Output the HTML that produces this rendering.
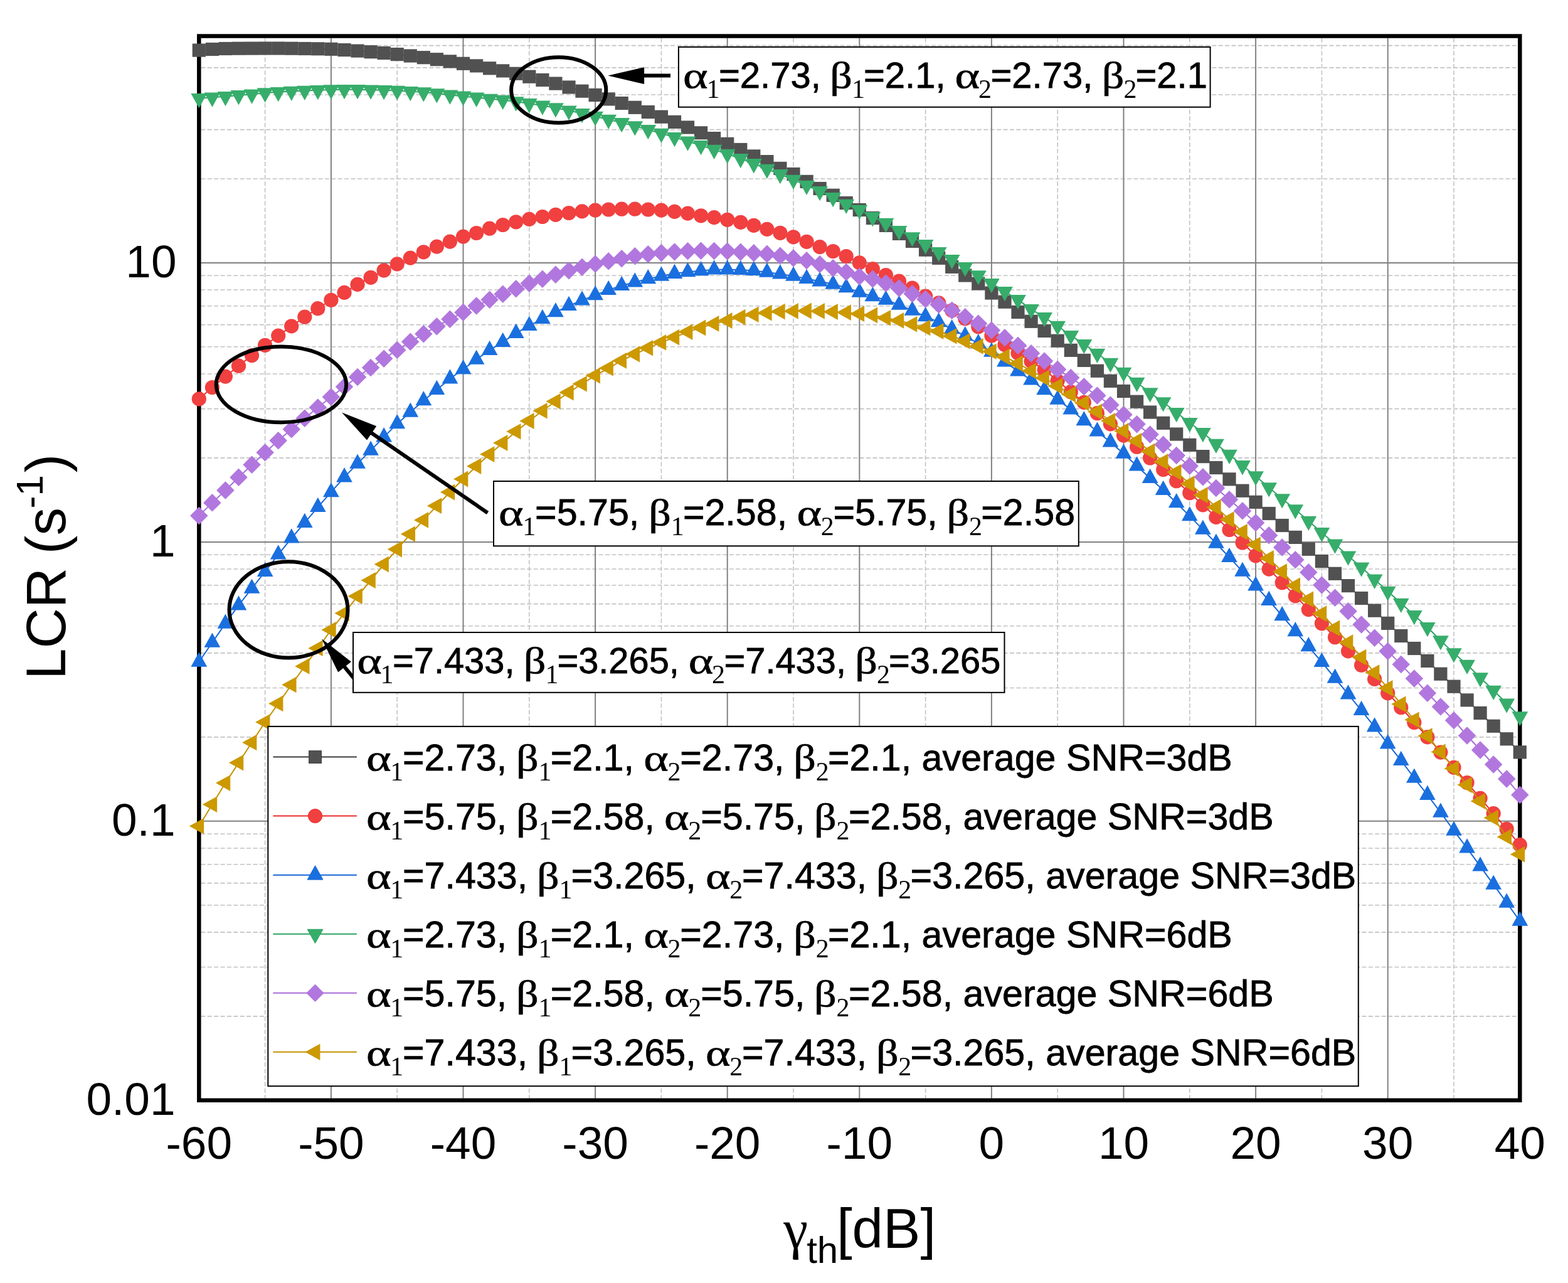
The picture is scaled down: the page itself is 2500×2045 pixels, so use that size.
<!DOCTYPE html><html><head><meta charset="utf-8"><title>LCR vs threshold</title>
<style>html,body{margin:0;padding:0;background:#fff;width:2500px;height:2045px;overflow:hidden}svg{display:block}</style></head><body>
<svg width="2500" height="2045" viewBox="0 0 2500 2045">
<rect width="2500" height="2045" fill="#fff"/>
<g id="grid"><line x1="422.6" y1="60.5" x2="422.6" y2="1750.8" stroke="#c2c2c2" stroke-width="1.6" stroke-dasharray="7 3.4"/><line x1="633.2" y1="60.5" x2="633.2" y2="1750.8" stroke="#c2c2c2" stroke-width="1.6" stroke-dasharray="7 3.4"/><line x1="843.8" y1="60.5" x2="843.8" y2="1750.8" stroke="#c2c2c2" stroke-width="1.6" stroke-dasharray="7 3.4"/><line x1="1054.4" y1="60.5" x2="1054.4" y2="1750.8" stroke="#c2c2c2" stroke-width="1.6" stroke-dasharray="7 3.4"/><line x1="1265" y1="60.5" x2="1265" y2="1750.8" stroke="#c2c2c2" stroke-width="1.6" stroke-dasharray="7 3.4"/><line x1="1475.6" y1="60.5" x2="1475.6" y2="1750.8" stroke="#c2c2c2" stroke-width="1.6" stroke-dasharray="7 3.4"/><line x1="1686.2" y1="60.5" x2="1686.2" y2="1750.8" stroke="#c2c2c2" stroke-width="1.6" stroke-dasharray="7 3.4"/><line x1="1896.8" y1="60.5" x2="1896.8" y2="1750.8" stroke="#c2c2c2" stroke-width="1.6" stroke-dasharray="7 3.4"/><line x1="2107.4" y1="60.5" x2="2107.4" y2="1750.8" stroke="#c2c2c2" stroke-width="1.6" stroke-dasharray="7 3.4"/><line x1="2318" y1="60.5" x2="2318" y2="1750.8" stroke="#c2c2c2" stroke-width="1.6" stroke-dasharray="7 3.4"/><line x1="320.3" y1="1619.9" x2="2420.3" y2="1619.9" stroke="#c2c2c2" stroke-width="1.6" stroke-dasharray="7 3.4"/><line x1="320.3" y1="1541.5" x2="2420.3" y2="1541.5" stroke="#c2c2c2" stroke-width="1.6" stroke-dasharray="7 3.4"/><line x1="320.3" y1="1485.9" x2="2420.3" y2="1485.9" stroke="#c2c2c2" stroke-width="1.6" stroke-dasharray="7 3.4"/><line x1="320.3" y1="1442.8" x2="2420.3" y2="1442.8" stroke="#c2c2c2" stroke-width="1.6" stroke-dasharray="7 3.4"/><line x1="320.3" y1="1407.6" x2="2420.3" y2="1407.6" stroke="#c2c2c2" stroke-width="1.6" stroke-dasharray="7 3.4"/><line x1="320.3" y1="1377.8" x2="2420.3" y2="1377.8" stroke="#c2c2c2" stroke-width="1.6" stroke-dasharray="7 3.4"/><line x1="320.3" y1="1352" x2="2420.3" y2="1352" stroke="#c2c2c2" stroke-width="1.6" stroke-dasharray="7 3.4"/><line x1="320.3" y1="1329.2" x2="2420.3" y2="1329.2" stroke="#c2c2c2" stroke-width="1.6" stroke-dasharray="7 3.4"/><line x1="320.3" y1="1174.9" x2="2420.3" y2="1174.9" stroke="#c2c2c2" stroke-width="1.6" stroke-dasharray="7 3.4"/><line x1="320.3" y1="1096.5" x2="2420.3" y2="1096.5" stroke="#c2c2c2" stroke-width="1.6" stroke-dasharray="7 3.4"/><line x1="320.3" y1="1040.9" x2="2420.3" y2="1040.9" stroke="#c2c2c2" stroke-width="1.6" stroke-dasharray="7 3.4"/><line x1="320.3" y1="997.8" x2="2420.3" y2="997.8" stroke="#c2c2c2" stroke-width="1.6" stroke-dasharray="7 3.4"/><line x1="320.3" y1="962.6" x2="2420.3" y2="962.6" stroke="#c2c2c2" stroke-width="1.6" stroke-dasharray="7 3.4"/><line x1="320.3" y1="932.8" x2="2420.3" y2="932.8" stroke="#c2c2c2" stroke-width="1.6" stroke-dasharray="7 3.4"/><line x1="320.3" y1="907" x2="2420.3" y2="907" stroke="#c2c2c2" stroke-width="1.6" stroke-dasharray="7 3.4"/><line x1="320.3" y1="884.2" x2="2420.3" y2="884.2" stroke="#c2c2c2" stroke-width="1.6" stroke-dasharray="7 3.4"/><line x1="320.3" y1="729.9" x2="2420.3" y2="729.9" stroke="#c2c2c2" stroke-width="1.6" stroke-dasharray="7 3.4"/><line x1="320.3" y1="651.6" x2="2420.3" y2="651.6" stroke="#c2c2c2" stroke-width="1.6" stroke-dasharray="7 3.4"/><line x1="320.3" y1="596" x2="2420.3" y2="596" stroke="#c2c2c2" stroke-width="1.6" stroke-dasharray="7 3.4"/><line x1="320.3" y1="552.8" x2="2420.3" y2="552.8" stroke="#c2c2c2" stroke-width="1.6" stroke-dasharray="7 3.4"/><line x1="320.3" y1="517.6" x2="2420.3" y2="517.6" stroke="#c2c2c2" stroke-width="1.6" stroke-dasharray="7 3.4"/><line x1="320.3" y1="487.8" x2="2420.3" y2="487.8" stroke="#c2c2c2" stroke-width="1.6" stroke-dasharray="7 3.4"/><line x1="320.3" y1="462" x2="2420.3" y2="462" stroke="#c2c2c2" stroke-width="1.6" stroke-dasharray="7 3.4"/><line x1="320.3" y1="439.3" x2="2420.3" y2="439.3" stroke="#c2c2c2" stroke-width="1.6" stroke-dasharray="7 3.4"/><line x1="320.3" y1="285" x2="2420.3" y2="285" stroke="#c2c2c2" stroke-width="1.6" stroke-dasharray="7 3.4"/><line x1="320.3" y1="206.6" x2="2420.3" y2="206.6" stroke="#c2c2c2" stroke-width="1.6" stroke-dasharray="7 3.4"/><line x1="320.3" y1="151" x2="2420.3" y2="151" stroke="#c2c2c2" stroke-width="1.6" stroke-dasharray="7 3.4"/><line x1="320.3" y1="107.9" x2="2420.3" y2="107.9" stroke="#c2c2c2" stroke-width="1.6" stroke-dasharray="7 3.4"/><line x1="320.3" y1="72.6" x2="2420.3" y2="72.6" stroke="#c2c2c2" stroke-width="1.6" stroke-dasharray="7 3.4"/><line x1="527.9" y1="60.5" x2="527.9" y2="1750.8" stroke="#808080" stroke-width="2"/><line x1="738.5" y1="60.5" x2="738.5" y2="1750.8" stroke="#808080" stroke-width="2"/><line x1="949.1" y1="60.5" x2="949.1" y2="1750.8" stroke="#808080" stroke-width="2"/><line x1="1159.7" y1="60.5" x2="1159.7" y2="1750.8" stroke="#808080" stroke-width="2"/><line x1="1370.3" y1="60.5" x2="1370.3" y2="1750.8" stroke="#808080" stroke-width="2"/><line x1="1580.9" y1="60.5" x2="1580.9" y2="1750.8" stroke="#808080" stroke-width="2"/><line x1="1791.5" y1="60.5" x2="1791.5" y2="1750.8" stroke="#808080" stroke-width="2"/><line x1="2002.1" y1="60.5" x2="2002.1" y2="1750.8" stroke="#808080" stroke-width="2"/><line x1="2212.7" y1="60.5" x2="2212.7" y2="1750.8" stroke="#808080" stroke-width="2"/><line x1="320.3" y1="1308.8" x2="2420.3" y2="1308.8" stroke="#808080" stroke-width="2"/><line x1="320.3" y1="863.9" x2="2420.3" y2="863.9" stroke="#808080" stroke-width="2"/><line x1="320.3" y1="418.9" x2="2420.3" y2="418.9" stroke="#808080" stroke-width="2"/></g>
<rect x="317.3" y="57.5" width="2106" height="1696.3" fill="none" stroke="#000" stroke-width="6.5"/>
<g id="curves"><polyline points="317.3,80 338.4,78.5 359.4,77.5 380.5,77.2 401.5,77.1 422.6,77 443.7,77 464.7,77.2 485.8,77.5 506.8,77.8 527.9,78.3 549,79.6 570,81.1 591.1,82.7 612.1,84.5 633.2,86.6 654.3,89 675.3,91.7 696.4,94.7 717.4,97.9 738.5,101.3 759.6,104.9 780.6,108.8 801.7,112.9 822.7,117.3 843.8,122.2 864.9,127.5 885.9,133.1 907,139 928,145.2 949.1,151.5 970.2,157.9 991.2,164.5 1012.3,171.3 1033.3,178.5 1054.4,186.2 1075.5,194.4 1096.5,203 1117.6,211.8 1138.6,220.6 1159.7,229.4 1180.8,238.5 1201.8,248.9 1222.9,257.6 1243.9,268.4 1265,277.5 1286.1,289.4 1307.1,300.5 1328.2,311.3 1349.2,323.5 1370.3,334.5 1391.4,347.5 1412.4,359.4 1433.5,372.4 1454.5,384.4 1475.6,398.2 1496.7,411.3 1517.7,425.3 1538.8,439 1559.8,452 1580.9,467 1602,481.2 1623,497.4 1644.1,512.3 1665.1,527.4 1686.2,543.2 1707.3,558.3 1728.3,574.4 1749.4,591.2 1770.4,607.3 1791.5,623.5 1812.6,640.2 1833.6,657 1854.7,674.3 1875.7,692 1896.8,709.3 1917.9,727.6 1938.9,745.5 1960,763.8 1981,782.2 2002.1,800.3 2023.2,818.5 2044.2,837.5 2065.3,856.4 2086.3,875.3 2107.4,894.6 2128.5,914.3 2149.5,933.6 2170.6,953.5 2191.6,973.2 2212.7,993.4 2233.8,1013.5 2254.8,1033.5 2275.9,1053.4 2296.9,1074.2 2318,1094.2 2339.1,1115.9 2360.1,1136.5 2381.2,1157.3 2402.2,1177.8 2423.3,1198.9" fill="none" stroke="#3d3d3d" stroke-width="2"/><rect x="306.7" y="69.5" width="21.2" height="21.2" fill="#515151"/><rect x="327.8" y="67.9" width="21.2" height="21.2" fill="#515151"/><rect x="348.8" y="66.9" width="21.2" height="21.2" fill="#515151"/><rect x="369.9" y="66.6" width="21.2" height="21.2" fill="#515151"/><rect x="390.9" y="66.5" width="21.2" height="21.2" fill="#515151"/><rect x="412" y="66.4" width="21.2" height="21.2" fill="#515151"/><rect x="433.1" y="66.4" width="21.2" height="21.2" fill="#515151"/><rect x="454.1" y="66.6" width="21.2" height="21.2" fill="#515151"/><rect x="475.2" y="66.9" width="21.2" height="21.2" fill="#515151"/><rect x="496.2" y="67.2" width="21.2" height="21.2" fill="#515151"/><rect x="517.3" y="67.7" width="21.2" height="21.2" fill="#515151"/><rect x="538.4" y="69" width="21.2" height="21.2" fill="#515151"/><rect x="559.4" y="70.5" width="21.2" height="21.2" fill="#515151"/><rect x="580.5" y="72.1" width="21.2" height="21.2" fill="#515151"/><rect x="601.5" y="73.9" width="21.2" height="21.2" fill="#515151"/><rect x="622.6" y="76" width="21.2" height="21.2" fill="#515151"/><rect x="643.7" y="78.4" width="21.2" height="21.2" fill="#515151"/><rect x="664.7" y="81.1" width="21.2" height="21.2" fill="#515151"/><rect x="685.8" y="84.1" width="21.2" height="21.2" fill="#515151"/><rect x="706.8" y="87.3" width="21.2" height="21.2" fill="#515151"/><rect x="727.9" y="90.7" width="21.2" height="21.2" fill="#515151"/><rect x="749" y="94.3" width="21.2" height="21.2" fill="#515151"/><rect x="770" y="98.2" width="21.2" height="21.2" fill="#515151"/><rect x="791.1" y="102.3" width="21.2" height="21.2" fill="#515151"/><rect x="812.1" y="106.7" width="21.2" height="21.2" fill="#515151"/><rect x="833.2" y="111.6" width="21.2" height="21.2" fill="#515151"/><rect x="854.3" y="116.9" width="21.2" height="21.2" fill="#515151"/><rect x="875.3" y="122.5" width="21.2" height="21.2" fill="#515151"/><rect x="896.4" y="128.4" width="21.2" height="21.2" fill="#515151"/><rect x="917.4" y="134.6" width="21.2" height="21.2" fill="#515151"/><rect x="938.5" y="140.9" width="21.2" height="21.2" fill="#515151"/><rect x="959.6" y="147.3" width="21.2" height="21.2" fill="#515151"/><rect x="980.6" y="153.9" width="21.2" height="21.2" fill="#515151"/><rect x="1001.7" y="160.7" width="21.2" height="21.2" fill="#515151"/><rect x="1022.7" y="167.9" width="21.2" height="21.2" fill="#515151"/><rect x="1043.8" y="175.6" width="21.2" height="21.2" fill="#515151"/><rect x="1064.9" y="183.8" width="21.2" height="21.2" fill="#515151"/><rect x="1085.9" y="192.4" width="21.2" height="21.2" fill="#515151"/><rect x="1107" y="201.2" width="21.2" height="21.2" fill="#515151"/><rect x="1128" y="210" width="21.2" height="21.2" fill="#515151"/><rect x="1149.1" y="218.8" width="21.2" height="21.2" fill="#515151"/><rect x="1170.2" y="227.9" width="21.2" height="21.2" fill="#515151"/><rect x="1191.2" y="238.3" width="21.2" height="21.2" fill="#515151"/><rect x="1212.3" y="247" width="21.2" height="21.2" fill="#515151"/><rect x="1233.3" y="257.8" width="21.2" height="21.2" fill="#515151"/><rect x="1254.4" y="266.9" width="21.2" height="21.2" fill="#515151"/><rect x="1275.5" y="278.8" width="21.2" height="21.2" fill="#515151"/><rect x="1296.5" y="289.9" width="21.2" height="21.2" fill="#515151"/><rect x="1317.6" y="300.7" width="21.2" height="21.2" fill="#515151"/><rect x="1338.6" y="312.9" width="21.2" height="21.2" fill="#515151"/><rect x="1359.7" y="323.9" width="21.2" height="21.2" fill="#515151"/><rect x="1380.8" y="336.9" width="21.2" height="21.2" fill="#515151"/><rect x="1401.8" y="348.8" width="21.2" height="21.2" fill="#515151"/><rect x="1422.9" y="361.8" width="21.2" height="21.2" fill="#515151"/><rect x="1443.9" y="373.8" width="21.2" height="21.2" fill="#515151"/><rect x="1465" y="387.6" width="21.2" height="21.2" fill="#515151"/><rect x="1486.1" y="400.7" width="21.2" height="21.2" fill="#515151"/><rect x="1507.1" y="414.7" width="21.2" height="21.2" fill="#515151"/><rect x="1528.2" y="428.4" width="21.2" height="21.2" fill="#515151"/><rect x="1549.2" y="441.4" width="21.2" height="21.2" fill="#515151"/><rect x="1570.3" y="456.4" width="21.2" height="21.2" fill="#515151"/><rect x="1591.4" y="470.6" width="21.2" height="21.2" fill="#515151"/><rect x="1612.4" y="486.8" width="21.2" height="21.2" fill="#515151"/><rect x="1633.5" y="501.7" width="21.2" height="21.2" fill="#515151"/><rect x="1654.5" y="516.8" width="21.2" height="21.2" fill="#515151"/><rect x="1675.6" y="532.6" width="21.2" height="21.2" fill="#515151"/><rect x="1696.7" y="547.7" width="21.2" height="21.2" fill="#515151"/><rect x="1717.7" y="563.8" width="21.2" height="21.2" fill="#515151"/><rect x="1738.8" y="580.6" width="21.2" height="21.2" fill="#515151"/><rect x="1759.8" y="596.7" width="21.2" height="21.2" fill="#515151"/><rect x="1780.9" y="612.9" width="21.2" height="21.2" fill="#515151"/><rect x="1802" y="629.6" width="21.2" height="21.2" fill="#515151"/><rect x="1823" y="646.4" width="21.2" height="21.2" fill="#515151"/><rect x="1844.1" y="663.7" width="21.2" height="21.2" fill="#515151"/><rect x="1865.1" y="681.4" width="21.2" height="21.2" fill="#515151"/><rect x="1886.2" y="698.7" width="21.2" height="21.2" fill="#515151"/><rect x="1907.3" y="717" width="21.2" height="21.2" fill="#515151"/><rect x="1928.3" y="734.9" width="21.2" height="21.2" fill="#515151"/><rect x="1949.4" y="753.2" width="21.2" height="21.2" fill="#515151"/><rect x="1970.4" y="771.6" width="21.2" height="21.2" fill="#515151"/><rect x="1991.5" y="789.7" width="21.2" height="21.2" fill="#515151"/><rect x="2012.6" y="807.9" width="21.2" height="21.2" fill="#515151"/><rect x="2033.6" y="826.9" width="21.2" height="21.2" fill="#515151"/><rect x="2054.7" y="845.8" width="21.2" height="21.2" fill="#515151"/><rect x="2075.7" y="864.7" width="21.2" height="21.2" fill="#515151"/><rect x="2096.8" y="884" width="21.2" height="21.2" fill="#515151"/><rect x="2117.9" y="903.7" width="21.2" height="21.2" fill="#515151"/><rect x="2138.9" y="923" width="21.2" height="21.2" fill="#515151"/><rect x="2160" y="942.9" width="21.2" height="21.2" fill="#515151"/><rect x="2181" y="962.6" width="21.2" height="21.2" fill="#515151"/><rect x="2202.1" y="982.8" width="21.2" height="21.2" fill="#515151"/><rect x="2223.2" y="1002.9" width="21.2" height="21.2" fill="#515151"/><rect x="2244.2" y="1022.9" width="21.2" height="21.2" fill="#515151"/><rect x="2265.3" y="1042.8" width="21.2" height="21.2" fill="#515151"/><rect x="2286.3" y="1063.6" width="21.2" height="21.2" fill="#515151"/><rect x="2307.4" y="1083.6" width="21.2" height="21.2" fill="#515151"/><rect x="2328.5" y="1105.3" width="21.2" height="21.2" fill="#515151"/><rect x="2349.5" y="1125.9" width="21.2" height="21.2" fill="#515151"/><rect x="2370.6" y="1146.7" width="21.2" height="21.2" fill="#515151"/><rect x="2391.6" y="1167.2" width="21.2" height="21.2" fill="#515151"/><rect x="2412.7" y="1188.3" width="21.2" height="21.2" fill="#515151"/><polyline points="317.3,635.9 338.4,617.5 359.4,600.1 380.5,583.2 401.5,566.5 422.6,550.3 443.7,535.1 464.7,519.9 485.8,505.2 506.8,491.7 527.9,478.3 549,466.4 570,453.4 591.1,442.3 612.1,431 633.2,420.9 654.3,411.1 675.3,401.8 696.4,393.1 717.4,385.1 738.5,377.1 759.6,371.5 780.6,364.2 801.7,358.5 822.7,353.8 843.8,349.4 864.9,345.5 885.9,342.3 907,339.5 928,336.9 949.1,335.1 970.2,334 991.2,333.2 1012.3,333.2 1033.3,334 1054.4,335.1 1075.5,337.3 1096.5,340.1 1117.6,343.8 1138.6,346.6 1159.7,350.3 1180.8,354.3 1201.8,359.3 1222.9,365.4 1243.9,371.3 1265,377.8 1286.1,385.3 1307.1,393.6 1328.2,400.5 1349.2,408.5 1370.3,418.9 1391.4,428.7 1412.4,438.5 1433.5,448.2 1454.5,459 1475.6,472 1496.7,482.9 1517.7,494.8 1538.8,507.8 1559.8,520.8 1580.9,535 1602,549.5 1623,562.7 1644.1,575.9 1665.1,589.5 1686.2,607 1707.3,624.7 1728.3,641.4 1749.4,658.7 1770.4,675.8 1791.5,694 1812.6,712.2 1833.6,730 1854.7,748.5 1875.7,766.7 1896.8,785.7 1917.9,804.8 1938.9,824.4 1960,844.5 1981,865 2002.1,885.9 2023.2,907.1 2044.2,928.7 2065.3,949.9 2086.3,971.6 2107.4,993.8 2128.5,1015.7 2149.5,1037.9 2170.6,1060.2 2191.6,1082.4 2212.7,1104.8 2233.8,1127.7 2254.8,1151.5 2275.9,1174.9 2296.9,1199.1 2318,1223.3 2339.1,1247.5 2360.1,1272.4 2381.2,1296.6 2402.2,1321.3 2423.3,1346.7" fill="none" stroke="#EE2A2A" stroke-width="2"/><circle cx="317.3" cy="635.9" r="11.6" fill="#F14040"/><circle cx="338.4" cy="617.5" r="11.6" fill="#F14040"/><circle cx="359.4" cy="600.1" r="11.6" fill="#F14040"/><circle cx="380.5" cy="583.2" r="11.6" fill="#F14040"/><circle cx="401.5" cy="566.5" r="11.6" fill="#F14040"/><circle cx="422.6" cy="550.3" r="11.6" fill="#F14040"/><circle cx="443.7" cy="535.1" r="11.6" fill="#F14040"/><circle cx="464.7" cy="519.9" r="11.6" fill="#F14040"/><circle cx="485.8" cy="505.2" r="11.6" fill="#F14040"/><circle cx="506.8" cy="491.7" r="11.6" fill="#F14040"/><circle cx="527.9" cy="478.3" r="11.6" fill="#F14040"/><circle cx="549" cy="466.4" r="11.6" fill="#F14040"/><circle cx="570" cy="453.4" r="11.6" fill="#F14040"/><circle cx="591.1" cy="442.3" r="11.6" fill="#F14040"/><circle cx="612.1" cy="431" r="11.6" fill="#F14040"/><circle cx="633.2" cy="420.9" r="11.6" fill="#F14040"/><circle cx="654.3" cy="411.1" r="11.6" fill="#F14040"/><circle cx="675.3" cy="401.8" r="11.6" fill="#F14040"/><circle cx="696.4" cy="393.1" r="11.6" fill="#F14040"/><circle cx="717.4" cy="385.1" r="11.6" fill="#F14040"/><circle cx="738.5" cy="377.1" r="11.6" fill="#F14040"/><circle cx="759.6" cy="371.5" r="11.6" fill="#F14040"/><circle cx="780.6" cy="364.2" r="11.6" fill="#F14040"/><circle cx="801.7" cy="358.5" r="11.6" fill="#F14040"/><circle cx="822.7" cy="353.8" r="11.6" fill="#F14040"/><circle cx="843.8" cy="349.4" r="11.6" fill="#F14040"/><circle cx="864.9" cy="345.5" r="11.6" fill="#F14040"/><circle cx="885.9" cy="342.3" r="11.6" fill="#F14040"/><circle cx="907" cy="339.5" r="11.6" fill="#F14040"/><circle cx="928" cy="336.9" r="11.6" fill="#F14040"/><circle cx="949.1" cy="335.1" r="11.6" fill="#F14040"/><circle cx="970.2" cy="334" r="11.6" fill="#F14040"/><circle cx="991.2" cy="333.2" r="11.6" fill="#F14040"/><circle cx="1012.3" cy="333.2" r="11.6" fill="#F14040"/><circle cx="1033.3" cy="334" r="11.6" fill="#F14040"/><circle cx="1054.4" cy="335.1" r="11.6" fill="#F14040"/><circle cx="1075.5" cy="337.3" r="11.6" fill="#F14040"/><circle cx="1096.5" cy="340.1" r="11.6" fill="#F14040"/><circle cx="1117.6" cy="343.8" r="11.6" fill="#F14040"/><circle cx="1138.6" cy="346.6" r="11.6" fill="#F14040"/><circle cx="1159.7" cy="350.3" r="11.6" fill="#F14040"/><circle cx="1180.8" cy="354.3" r="11.6" fill="#F14040"/><circle cx="1201.8" cy="359.3" r="11.6" fill="#F14040"/><circle cx="1222.9" cy="365.4" r="11.6" fill="#F14040"/><circle cx="1243.9" cy="371.3" r="11.6" fill="#F14040"/><circle cx="1265" cy="377.8" r="11.6" fill="#F14040"/><circle cx="1286.1" cy="385.3" r="11.6" fill="#F14040"/><circle cx="1307.1" cy="393.6" r="11.6" fill="#F14040"/><circle cx="1328.2" cy="400.5" r="11.6" fill="#F14040"/><circle cx="1349.2" cy="408.5" r="11.6" fill="#F14040"/><circle cx="1370.3" cy="418.9" r="11.6" fill="#F14040"/><circle cx="1391.4" cy="428.7" r="11.6" fill="#F14040"/><circle cx="1412.4" cy="438.5" r="11.6" fill="#F14040"/><circle cx="1433.5" cy="448.2" r="11.6" fill="#F14040"/><circle cx="1454.5" cy="459" r="11.6" fill="#F14040"/><circle cx="1475.6" cy="472" r="11.6" fill="#F14040"/><circle cx="1496.7" cy="482.9" r="11.6" fill="#F14040"/><circle cx="1517.7" cy="494.8" r="11.6" fill="#F14040"/><circle cx="1538.8" cy="507.8" r="11.6" fill="#F14040"/><circle cx="1559.8" cy="520.8" r="11.6" fill="#F14040"/><circle cx="1580.9" cy="535" r="11.6" fill="#F14040"/><circle cx="1602" cy="549.5" r="11.6" fill="#F14040"/><circle cx="1623" cy="562.7" r="11.6" fill="#F14040"/><circle cx="1644.1" cy="575.9" r="11.6" fill="#F14040"/><circle cx="1665.1" cy="589.5" r="11.6" fill="#F14040"/><circle cx="1686.2" cy="607" r="11.6" fill="#F14040"/><circle cx="1707.3" cy="624.7" r="11.6" fill="#F14040"/><circle cx="1728.3" cy="641.4" r="11.6" fill="#F14040"/><circle cx="1749.4" cy="658.7" r="11.6" fill="#F14040"/><circle cx="1770.4" cy="675.8" r="11.6" fill="#F14040"/><circle cx="1791.5" cy="694" r="11.6" fill="#F14040"/><circle cx="1812.6" cy="712.2" r="11.6" fill="#F14040"/><circle cx="1833.6" cy="730" r="11.6" fill="#F14040"/><circle cx="1854.7" cy="748.5" r="11.6" fill="#F14040"/><circle cx="1875.7" cy="766.7" r="11.6" fill="#F14040"/><circle cx="1896.8" cy="785.7" r="11.6" fill="#F14040"/><circle cx="1917.9" cy="804.8" r="11.6" fill="#F14040"/><circle cx="1938.9" cy="824.4" r="11.6" fill="#F14040"/><circle cx="1960" cy="844.5" r="11.6" fill="#F14040"/><circle cx="1981" cy="865" r="11.6" fill="#F14040"/><circle cx="2002.1" cy="885.9" r="11.6" fill="#F14040"/><circle cx="2023.2" cy="907.1" r="11.6" fill="#F14040"/><circle cx="2044.2" cy="928.7" r="11.6" fill="#F14040"/><circle cx="2065.3" cy="949.9" r="11.6" fill="#F14040"/><circle cx="2086.3" cy="971.6" r="11.6" fill="#F14040"/><circle cx="2107.4" cy="993.8" r="11.6" fill="#F14040"/><circle cx="2128.5" cy="1015.7" r="11.6" fill="#F14040"/><circle cx="2149.5" cy="1037.9" r="11.6" fill="#F14040"/><circle cx="2170.6" cy="1060.2" r="11.6" fill="#F14040"/><circle cx="2191.6" cy="1082.4" r="11.6" fill="#F14040"/><circle cx="2212.7" cy="1104.8" r="11.6" fill="#F14040"/><circle cx="2233.8" cy="1127.7" r="11.6" fill="#F14040"/><circle cx="2254.8" cy="1151.5" r="11.6" fill="#F14040"/><circle cx="2275.9" cy="1174.9" r="11.6" fill="#F14040"/><circle cx="2296.9" cy="1199.1" r="11.6" fill="#F14040"/><circle cx="2318" cy="1223.3" r="11.6" fill="#F14040"/><circle cx="2339.1" cy="1247.5" r="11.6" fill="#F14040"/><circle cx="2360.1" cy="1272.4" r="11.6" fill="#F14040"/><circle cx="2381.2" cy="1296.6" r="11.6" fill="#F14040"/><circle cx="2402.2" cy="1321.3" r="11.6" fill="#F14040"/><circle cx="2423.3" cy="1346.7" r="11.6" fill="#F14040"/><polyline points="317.3,1055 338.4,1024 359.4,993.9 380.5,964.7 401.5,938 422.6,911.2 443.7,883.8 464.7,857.8 485.8,833.2 506.8,808.3 527.9,784.4 549,760.6 570,738.9 591.1,717.9 612.1,696.6 633.2,675.4 654.3,656.9 675.3,638.5 696.4,621.2 717.4,603.8 738.5,588.5 759.6,572.9 780.6,558.2 801.7,545.2 822.7,531.1 843.8,519.2 864.9,508.3 885.9,497.5 907,487.3 928,478.8 949.1,470.4 970.2,462.2 991.2,455.2 1012.3,449.8 1033.3,444.4 1054.4,440 1075.5,436.1 1096.5,433.5 1117.6,431.4 1138.6,429.8 1159.7,429.8 1180.8,430.2 1201.8,431.3 1222.9,433.9 1243.9,436.7 1265,440 1286.1,444.3 1307.1,448.6 1328.2,453 1349.2,458.4 1370.3,466 1391.4,472.5 1412.4,478 1433.5,486 1454.5,495 1475.6,504.4 1496.7,513.5 1517.7,524.5 1538.8,535.4 1559.8,547.5 1580.9,561 1602,576.6 1623,591.6 1644.1,605.8 1665.1,621.5 1686.2,636.9 1707.3,652.6 1728.3,670.5 1749.4,687.8 1770.4,704.8 1791.5,722.9 1812.6,742.8 1833.6,762.2 1854.7,781.2 1875.7,801.5 1896.8,822.6 1917.9,844.1 1938.9,866 1960,888.3 1981,910.9 2002.1,933.8 2023.2,957.1 2044.2,981.5 2065.3,1006.5 2086.3,1030.5 2107.4,1055.3 2128.5,1081 2149.5,1106.7 2170.6,1132.3 2191.6,1158.7 2212.7,1185.6 2233.8,1212.2 2254.8,1240 2275.9,1267.1 2296.9,1294.9 2318,1324 2339.1,1351.8 2360.1,1380.8 2381.2,1409.9 2402.2,1438.9 2423.3,1468" fill="none" stroke="#1566D6" stroke-width="2"/><polygon points="317.3,1039.5 330.2,1062.8 304.4,1062.8" fill="#1A6FDF"/><polygon points="338.4,1008.5 351.2,1031.8 325.5,1031.8" fill="#1A6FDF"/><polygon points="359.4,978.4 372.3,1001.7 346.6,1001.7" fill="#1A6FDF"/><polygon points="380.5,949.2 393.3,972.5 367.6,972.5" fill="#1A6FDF"/><polygon points="401.5,922.5 414.4,945.8 388.7,945.8" fill="#1A6FDF"/><polygon points="422.6,895.7 435.5,919 409.8,919" fill="#1A6FDF"/><polygon points="443.7,868.3 456.5,891.6 430.8,891.6" fill="#1A6FDF"/><polygon points="464.7,842.3 477.6,865.6 451.9,865.6" fill="#1A6FDF"/><polygon points="485.8,817.7 498.6,841 472.9,841" fill="#1A6FDF"/><polygon points="506.8,792.8 519.7,816.1 494,816.1" fill="#1A6FDF"/><polygon points="527.9,768.9 540.8,792.2 515,792.2" fill="#1A6FDF"/><polygon points="549,745.1 561.8,768.4 536.1,768.4" fill="#1A6FDF"/><polygon points="570,723.4 582.9,746.7 557.2,746.7" fill="#1A6FDF"/><polygon points="591.1,702.4 603.9,725.7 578.2,725.7" fill="#1A6FDF"/><polygon points="612.1,681.1 625,704.4 599.3,704.4" fill="#1A6FDF"/><polygon points="633.2,659.9 646.1,683.2 620.4,683.2" fill="#1A6FDF"/><polygon points="654.3,641.4 667.1,664.7 641.4,664.7" fill="#1A6FDF"/><polygon points="675.3,623 688.2,646.3 662.5,646.3" fill="#1A6FDF"/><polygon points="696.4,605.7 709.2,629 683.5,629" fill="#1A6FDF"/><polygon points="717.4,588.3 730.3,611.6 704.6,611.6" fill="#1A6FDF"/><polygon points="738.5,573 751.4,596.3 725.6,596.3" fill="#1A6FDF"/><polygon points="759.6,557.4 772.4,580.7 746.7,580.7" fill="#1A6FDF"/><polygon points="780.6,542.7 793.5,566 767.8,566" fill="#1A6FDF"/><polygon points="801.7,529.7 814.5,553 788.8,553" fill="#1A6FDF"/><polygon points="822.7,515.6 835.6,538.9 809.9,538.9" fill="#1A6FDF"/><polygon points="843.8,503.7 856.6,527 830.9,527" fill="#1A6FDF"/><polygon points="864.9,492.8 877.7,516.1 852,516.1" fill="#1A6FDF"/><polygon points="885.9,482 898.8,505.3 873.1,505.3" fill="#1A6FDF"/><polygon points="907,471.8 919.8,495.1 894.1,495.1" fill="#1A6FDF"/><polygon points="928,463.3 940.9,486.6 915.2,486.6" fill="#1A6FDF"/><polygon points="949.1,454.9 961.9,478.2 936.2,478.2" fill="#1A6FDF"/><polygon points="970.2,446.7 983,470 957.3,470" fill="#1A6FDF"/><polygon points="991.2,439.7 1004.1,463 978.4,463" fill="#1A6FDF"/><polygon points="1012.3,434.3 1025.1,457.6 999.4,457.6" fill="#1A6FDF"/><polygon points="1033.3,428.9 1046.2,452.2 1020.5,452.2" fill="#1A6FDF"/><polygon points="1054.4,424.5 1067.2,447.8 1041.5,447.8" fill="#1A6FDF"/><polygon points="1075.5,420.6 1088.3,443.9 1062.6,443.9" fill="#1A6FDF"/><polygon points="1096.5,418 1109.4,441.3 1083.7,441.3" fill="#1A6FDF"/><polygon points="1117.6,415.9 1130.4,439.2 1104.7,439.2" fill="#1A6FDF"/><polygon points="1138.6,414.3 1151.5,437.6 1125.8,437.6" fill="#1A6FDF"/><polygon points="1159.7,414.3 1172.5,437.6 1146.9,437.6" fill="#1A6FDF"/><polygon points="1180.8,414.7 1193.6,438 1167.9,438" fill="#1A6FDF"/><polygon points="1201.8,415.8 1214.7,439.1 1189,439.1" fill="#1A6FDF"/><polygon points="1222.9,418.4 1235.7,441.7 1210,441.7" fill="#1A6FDF"/><polygon points="1243.9,421.2 1256.8,444.5 1231.1,444.5" fill="#1A6FDF"/><polygon points="1265,424.5 1277.8,447.8 1252.2,447.8" fill="#1A6FDF"/><polygon points="1286.1,428.8 1298.9,452.1 1273.2,452.1" fill="#1A6FDF"/><polygon points="1307.1,433.1 1320,456.4 1294.3,456.4" fill="#1A6FDF"/><polygon points="1328.2,437.5 1341,460.8 1315.3,460.8" fill="#1A6FDF"/><polygon points="1349.2,442.9 1362.1,466.2 1336.4,466.2" fill="#1A6FDF"/><polygon points="1370.3,450.5 1383.1,473.8 1357.5,473.8" fill="#1A6FDF"/><polygon points="1391.4,457 1404.2,480.3 1378.5,480.3" fill="#1A6FDF"/><polygon points="1412.4,462.5 1425.3,485.8 1399.6,485.8" fill="#1A6FDF"/><polygon points="1433.5,470.5 1446.3,493.8 1420.6,493.8" fill="#1A6FDF"/><polygon points="1454.5,479.5 1467.4,502.8 1441.7,502.8" fill="#1A6FDF"/><polygon points="1475.6,488.9 1488.4,512.2 1462.8,512.2" fill="#1A6FDF"/><polygon points="1496.7,498 1509.5,521.3 1483.8,521.3" fill="#1A6FDF"/><polygon points="1517.7,509 1530.6,532.3 1504.9,532.3" fill="#1A6FDF"/><polygon points="1538.8,519.9 1551.6,543.2 1525.9,543.2" fill="#1A6FDF"/><polygon points="1559.8,532 1572.7,555.3 1547,555.3" fill="#1A6FDF"/><polygon points="1580.9,545.5 1593.7,568.8 1568,568.8" fill="#1A6FDF"/><polygon points="1602,561.1 1614.8,584.4 1589.1,584.4" fill="#1A6FDF"/><polygon points="1623,576.1 1635.9,599.4 1610.2,599.4" fill="#1A6FDF"/><polygon points="1644.1,590.3 1656.9,613.6 1631.2,613.6" fill="#1A6FDF"/><polygon points="1665.1,606 1678,629.3 1652.3,629.3" fill="#1A6FDF"/><polygon points="1686.2,621.4 1699,644.7 1673.3,644.7" fill="#1A6FDF"/><polygon points="1707.3,637.1 1720.1,660.4 1694.4,660.4" fill="#1A6FDF"/><polygon points="1728.3,655 1741.2,678.3 1715.5,678.3" fill="#1A6FDF"/><polygon points="1749.4,672.3 1762.2,695.6 1736.5,695.6" fill="#1A6FDF"/><polygon points="1770.4,689.2 1783.3,712.5 1757.6,712.5" fill="#1A6FDF"/><polygon points="1791.5,707.4 1804.3,730.7 1778.6,730.7" fill="#1A6FDF"/><polygon points="1812.6,727.3 1825.4,750.6 1799.7,750.6" fill="#1A6FDF"/><polygon points="1833.6,746.7 1846.5,770 1820.8,770" fill="#1A6FDF"/><polygon points="1854.7,765.7 1867.5,789 1841.8,789" fill="#1A6FDF"/><polygon points="1875.7,786 1888.6,809.3 1862.9,809.3" fill="#1A6FDF"/><polygon points="1896.8,807 1909.6,830.3 1884,830.3" fill="#1A6FDF"/><polygon points="1917.9,828.5 1930.7,851.8 1905,851.8" fill="#1A6FDF"/><polygon points="1938.9,850.5 1951.8,873.8 1926.1,873.8" fill="#1A6FDF"/><polygon points="1960,872.8 1972.8,896.1 1947.1,896.1" fill="#1A6FDF"/><polygon points="1981,895.4 1993.9,918.7 1968.2,918.7" fill="#1A6FDF"/><polygon points="2002.1,918.3 2014.9,941.6 1989.2,941.6" fill="#1A6FDF"/><polygon points="2023.2,941.6 2036,964.9 2010.3,964.9" fill="#1A6FDF"/><polygon points="2044.2,966 2057.1,989.3 2031.4,989.3" fill="#1A6FDF"/><polygon points="2065.3,991 2078.1,1014.3 2052.4,1014.3" fill="#1A6FDF"/><polygon points="2086.3,1015 2099.2,1038.3 2073.5,1038.3" fill="#1A6FDF"/><polygon points="2107.4,1039.8 2120.2,1063.1 2094.6,1063.1" fill="#1A6FDF"/><polygon points="2128.5,1065.5 2141.3,1088.8 2115.6,1088.8" fill="#1A6FDF"/><polygon points="2149.5,1091.2 2162.4,1114.5 2136.7,1114.5" fill="#1A6FDF"/><polygon points="2170.6,1116.8 2183.4,1140.1 2157.7,1140.1" fill="#1A6FDF"/><polygon points="2191.6,1143.2 2204.5,1166.5 2178.8,1166.5" fill="#1A6FDF"/><polygon points="2212.7,1170.1 2225.5,1193.4 2199.8,1193.4" fill="#1A6FDF"/><polygon points="2233.8,1196.7 2246.6,1220 2220.9,1220" fill="#1A6FDF"/><polygon points="2254.8,1224.5 2267.7,1247.8 2242,1247.8" fill="#1A6FDF"/><polygon points="2275.9,1251.6 2288.7,1274.9 2263,1274.9" fill="#1A6FDF"/><polygon points="2296.9,1279.4 2309.8,1302.7 2284.1,1302.7" fill="#1A6FDF"/><polygon points="2318,1308.5 2330.8,1331.8 2305.2,1331.8" fill="#1A6FDF"/><polygon points="2339.1,1336.3 2351.9,1359.6 2326.2,1359.6" fill="#1A6FDF"/><polygon points="2360.1,1365.3 2373,1388.6 2347.3,1388.6" fill="#1A6FDF"/><polygon points="2381.2,1394.4 2394,1417.7 2368.3,1417.7" fill="#1A6FDF"/><polygon points="2402.2,1423.4 2415.1,1446.7 2389.4,1446.7" fill="#1A6FDF"/><polygon points="2423.3,1452.5 2436.2,1475.8 2410.5,1475.8" fill="#1A6FDF"/><polyline points="317.3,156.7 338.4,155.2 359.4,153.7 380.5,151.9 401.5,150.2 422.6,148 443.7,146.7 464.7,145.6 485.8,144.5 506.8,143.7 527.9,143 549,142.8 570,142.8 591.1,143.2 612.1,143.7 633.2,144.5 654.3,145.8 675.3,147.1 696.4,149.1 717.4,151.3 738.5,153.4 759.6,155.4 780.6,157.4 801.7,159.6 822.7,162.1 843.8,164.9 864.9,168.2 885.9,172 907,176.2 928,180.7 949.1,185.5 970.2,190.5 991.2,195.6 1012.3,201 1033.3,206.7 1054.4,212.6 1075.5,218.8 1096.5,225.2 1117.6,231.8 1138.6,238.6 1159.7,245.5 1180.8,252.7 1201.8,260.9 1222.9,269.6 1243.9,277.8 1265,286.5 1286.1,295.6 1307.1,304.7 1328.2,314.7 1349.2,325.5 1370.3,334.6 1391.4,345.9 1412.4,355.6 1433.5,367.8 1454.5,378 1475.6,389.9 1496.7,401.8 1517.7,413.7 1538.8,425.7 1559.8,439.1 1580.9,451.7 1602,464.7 1623,477.7 1644.1,492.8 1665.1,505.9 1686.2,519.5 1707.3,534.7 1728.3,548.7 1749.4,563.5 1770.4,578.5 1791.5,593.6 1812.6,609.5 1833.6,626 1854.7,641 1875.7,657.8 1896.8,673.8 1917.9,689.7 1938.9,707.5 1960,724.6 1981,741.9 2002.1,759 2023.2,777 2044.2,795 2065.3,812 2086.3,830.5 2107.4,848.8 2128.5,867.2 2149.5,886.3 2170.6,904.3 2191.6,923.4 2212.7,942.5 2233.8,961.6 2254.8,980.7 2275.9,999.8 2296.9,1021 2318,1041.1 2339.1,1059.6 2360.1,1080 2381.2,1100.5 2402.2,1121.2 2423.3,1142" fill="none" stroke="#2BA361" stroke-width="2"/><polygon points="317.3,172.2 330.2,148.9 304.4,148.9" fill="#37AD6B"/><polygon points="338.4,170.7 351.2,147.4 325.5,147.4" fill="#37AD6B"/><polygon points="359.4,169.2 372.3,145.9 346.6,145.9" fill="#37AD6B"/><polygon points="380.5,167.4 393.3,144.1 367.6,144.1" fill="#37AD6B"/><polygon points="401.5,165.7 414.4,142.4 388.7,142.4" fill="#37AD6B"/><polygon points="422.6,163.5 435.5,140.2 409.8,140.2" fill="#37AD6B"/><polygon points="443.7,162.2 456.5,138.9 430.8,138.9" fill="#37AD6B"/><polygon points="464.7,161.1 477.6,137.8 451.9,137.8" fill="#37AD6B"/><polygon points="485.8,160 498.6,136.7 472.9,136.7" fill="#37AD6B"/><polygon points="506.8,159.2 519.7,135.9 494,135.9" fill="#37AD6B"/><polygon points="527.9,158.5 540.8,135.2 515,135.2" fill="#37AD6B"/><polygon points="549,158.3 561.8,135 536.1,135" fill="#37AD6B"/><polygon points="570,158.3 582.9,135 557.2,135" fill="#37AD6B"/><polygon points="591.1,158.7 603.9,135.4 578.2,135.4" fill="#37AD6B"/><polygon points="612.1,159.2 625,135.9 599.3,135.9" fill="#37AD6B"/><polygon points="633.2,160 646.1,136.7 620.4,136.7" fill="#37AD6B"/><polygon points="654.3,161.3 667.1,138 641.4,138" fill="#37AD6B"/><polygon points="675.3,162.6 688.2,139.3 662.5,139.3" fill="#37AD6B"/><polygon points="696.4,164.6 709.2,141.3 683.5,141.3" fill="#37AD6B"/><polygon points="717.4,166.8 730.3,143.5 704.6,143.5" fill="#37AD6B"/><polygon points="738.5,168.9 751.4,145.6 725.6,145.6" fill="#37AD6B"/><polygon points="759.6,170.9 772.4,147.6 746.7,147.6" fill="#37AD6B"/><polygon points="780.6,173 793.5,149.7 767.8,149.7" fill="#37AD6B"/><polygon points="801.7,175.1 814.5,151.8 788.8,151.8" fill="#37AD6B"/><polygon points="822.7,177.6 835.6,154.3 809.9,154.3" fill="#37AD6B"/><polygon points="843.8,180.4 856.6,157.1 830.9,157.1" fill="#37AD6B"/><polygon points="864.9,183.8 877.7,160.5 852,160.5" fill="#37AD6B"/><polygon points="885.9,187.6 898.8,164.3 873.1,164.3" fill="#37AD6B"/><polygon points="907,191.8 919.8,168.5 894.1,168.5" fill="#37AD6B"/><polygon points="928,196.3 940.9,173 915.2,173" fill="#37AD6B"/><polygon points="949.1,201 961.9,177.7 936.2,177.7" fill="#37AD6B"/><polygon points="970.2,206 983,182.7 957.3,182.7" fill="#37AD6B"/><polygon points="991.2,211.2 1004.1,187.9 978.4,187.9" fill="#37AD6B"/><polygon points="1012.3,216.6 1025.1,193.3 999.4,193.3" fill="#37AD6B"/><polygon points="1033.3,222.2 1046.2,198.9 1020.5,198.9" fill="#37AD6B"/><polygon points="1054.4,228.1 1067.2,204.8 1041.5,204.8" fill="#37AD6B"/><polygon points="1075.5,234.3 1088.3,211 1062.6,211" fill="#37AD6B"/><polygon points="1096.5,240.7 1109.4,217.4 1083.7,217.4" fill="#37AD6B"/><polygon points="1117.6,247.3 1130.4,224 1104.7,224" fill="#37AD6B"/><polygon points="1138.6,254.1 1151.5,230.8 1125.8,230.8" fill="#37AD6B"/><polygon points="1159.7,261 1172.5,237.7 1146.9,237.7" fill="#37AD6B"/><polygon points="1180.8,268.2 1193.6,244.9 1167.9,244.9" fill="#37AD6B"/><polygon points="1201.8,276.4 1214.7,253.1 1189,253.1" fill="#37AD6B"/><polygon points="1222.9,285.1 1235.7,261.8 1210,261.8" fill="#37AD6B"/><polygon points="1243.9,293.3 1256.8,270 1231.1,270" fill="#37AD6B"/><polygon points="1265,302 1277.8,278.7 1252.2,278.7" fill="#37AD6B"/><polygon points="1286.1,311.1 1298.9,287.8 1273.2,287.8" fill="#37AD6B"/><polygon points="1307.1,320.2 1320,296.9 1294.3,296.9" fill="#37AD6B"/><polygon points="1328.2,330.2 1341,306.9 1315.3,306.9" fill="#37AD6B"/><polygon points="1349.2,341 1362.1,317.7 1336.4,317.7" fill="#37AD6B"/><polygon points="1370.3,350.1 1383.1,326.8 1357.5,326.8" fill="#37AD6B"/><polygon points="1391.4,361.4 1404.2,338.1 1378.5,338.1" fill="#37AD6B"/><polygon points="1412.4,371.1 1425.3,347.8 1399.6,347.8" fill="#37AD6B"/><polygon points="1433.5,383.3 1446.3,360 1420.6,360" fill="#37AD6B"/><polygon points="1454.5,393.5 1467.4,370.2 1441.7,370.2" fill="#37AD6B"/><polygon points="1475.6,405.4 1488.4,382.1 1462.8,382.1" fill="#37AD6B"/><polygon points="1496.7,417.3 1509.5,394 1483.8,394" fill="#37AD6B"/><polygon points="1517.7,429.2 1530.6,405.9 1504.9,405.9" fill="#37AD6B"/><polygon points="1538.8,441.2 1551.6,417.9 1525.9,417.9" fill="#37AD6B"/><polygon points="1559.8,454.6 1572.7,431.3 1547,431.3" fill="#37AD6B"/><polygon points="1580.9,467.2 1593.7,443.9 1568,443.9" fill="#37AD6B"/><polygon points="1602,480.2 1614.8,456.9 1589.1,456.9" fill="#37AD6B"/><polygon points="1623,493.2 1635.9,469.9 1610.2,469.9" fill="#37AD6B"/><polygon points="1644.1,508.3 1656.9,485 1631.2,485" fill="#37AD6B"/><polygon points="1665.1,521.4 1678,498.1 1652.3,498.1" fill="#37AD6B"/><polygon points="1686.2,535 1699,511.7 1673.3,511.7" fill="#37AD6B"/><polygon points="1707.3,550.2 1720.1,526.9 1694.4,526.9" fill="#37AD6B"/><polygon points="1728.3,564.2 1741.2,540.9 1715.5,540.9" fill="#37AD6B"/><polygon points="1749.4,579 1762.2,555.7 1736.5,555.7" fill="#37AD6B"/><polygon points="1770.4,594 1783.3,570.7 1757.6,570.7" fill="#37AD6B"/><polygon points="1791.5,609.1 1804.3,585.8 1778.6,585.8" fill="#37AD6B"/><polygon points="1812.6,625 1825.4,601.7 1799.7,601.7" fill="#37AD6B"/><polygon points="1833.6,641.5 1846.5,618.2 1820.8,618.2" fill="#37AD6B"/><polygon points="1854.7,656.5 1867.5,633.2 1841.8,633.2" fill="#37AD6B"/><polygon points="1875.7,673.3 1888.6,650 1862.9,650" fill="#37AD6B"/><polygon points="1896.8,689.3 1909.6,666 1884,666" fill="#37AD6B"/><polygon points="1917.9,705.2 1930.7,681.9 1905,681.9" fill="#37AD6B"/><polygon points="1938.9,723 1951.8,699.7 1926.1,699.7" fill="#37AD6B"/><polygon points="1960,740.1 1972.8,716.8 1947.1,716.8" fill="#37AD6B"/><polygon points="1981,757.4 1993.9,734.1 1968.2,734.1" fill="#37AD6B"/><polygon points="2002.1,774.5 2014.9,751.2 1989.2,751.2" fill="#37AD6B"/><polygon points="2023.2,792.5 2036,769.2 2010.3,769.2" fill="#37AD6B"/><polygon points="2044.2,810.5 2057.1,787.2 2031.4,787.2" fill="#37AD6B"/><polygon points="2065.3,827.5 2078.1,804.2 2052.4,804.2" fill="#37AD6B"/><polygon points="2086.3,846 2099.2,822.7 2073.5,822.7" fill="#37AD6B"/><polygon points="2107.4,864.3 2120.2,841 2094.6,841" fill="#37AD6B"/><polygon points="2128.5,882.7 2141.3,859.4 2115.6,859.4" fill="#37AD6B"/><polygon points="2149.5,901.8 2162.4,878.5 2136.7,878.5" fill="#37AD6B"/><polygon points="2170.6,919.8 2183.4,896.5 2157.7,896.5" fill="#37AD6B"/><polygon points="2191.6,938.9 2204.5,915.6 2178.8,915.6" fill="#37AD6B"/><polygon points="2212.7,958 2225.5,934.7 2199.8,934.7" fill="#37AD6B"/><polygon points="2233.8,977.1 2246.6,953.8 2220.9,953.8" fill="#37AD6B"/><polygon points="2254.8,996.2 2267.7,972.9 2242,972.9" fill="#37AD6B"/><polygon points="2275.9,1015.3 2288.7,992 2263,992" fill="#37AD6B"/><polygon points="2296.9,1036.5 2309.8,1013.2 2284.1,1013.2" fill="#37AD6B"/><polygon points="2318,1056.6 2330.8,1033.3 2305.2,1033.3" fill="#37AD6B"/><polygon points="2339.1,1075.1 2351.9,1051.8 2326.2,1051.8" fill="#37AD6B"/><polygon points="2360.1,1095.5 2373,1072.2 2347.3,1072.2" fill="#37AD6B"/><polygon points="2381.2,1116 2394,1092.7 2368.3,1092.7" fill="#37AD6B"/><polygon points="2402.2,1136.7 2415.1,1113.4 2389.4,1113.4" fill="#37AD6B"/><polygon points="2423.3,1157.5 2436.2,1134.2 2410.5,1134.2" fill="#37AD6B"/><polyline points="317.3,822 338.4,801.4 359.4,781.5 380.5,760.9 401.5,740.7 422.6,721.2 443.7,702.3 464.7,684.3 485.8,666.7 506.8,649.5 527.9,632.7 549,616.5 570,600.9 591.1,586 612.1,571.6 633.2,557.9 654.3,544.8 675.3,532.3 696.4,520.3 717.4,508.8 738.5,497.9 759.6,487.5 780.6,477.8 801.7,468.7 822.7,460.4 843.8,451.7 864.9,444.8 885.9,437.7 907,431.2 928,425.7 949.1,420.7 970.2,416.4 991.2,412.1 1012.3,408.4 1033.3,405.1 1054.4,403 1075.5,401.5 1096.5,400.2 1117.6,399.7 1138.6,400 1159.7,400.5 1180.8,401.6 1201.8,403.3 1222.9,404.9 1243.9,407.7 1265,411.4 1286.1,415.3 1307.1,421.1 1328.2,427.2 1349.2,433.7 1370.3,440.6 1391.4,444.8 1412.4,451.5 1433.5,459.3 1454.5,468.1 1475.6,476.9 1496.7,485.5 1517.7,494.9 1538.8,505.2 1559.8,515.6 1580.9,526.5 1602,538.4 1623,550.7 1644.1,563.2 1665.1,575.5 1686.2,588.9 1707.3,602 1728.3,616.3 1749.4,630.5 1770.4,645.5 1791.5,661 1812.6,676.1 1833.6,692.5 1854.7,708.8 1875.7,726 1896.8,742.8 1917.9,760.4 1938.9,778 1960,796.2 1981,814.4 2002.1,833.3 2023.2,853.4 2044.2,872.5 2065.3,892.2 2086.3,912.2 2107.4,932.5 2128.5,952.7 2149.5,974.3 2170.6,995.5 2191.6,1016.7 2212.7,1037.9 2233.8,1059.1 2254.8,1081.4 2275.9,1104.8 2296.9,1126.5 2318,1148.3 2339.1,1172.5 2360.1,1195.5 2381.2,1218.5 2402.2,1241.5 2423.3,1266.9" fill="none" stroke="#A86BD8" stroke-width="2"/><polygon points="317.3,807.8 331.6,822 317.3,836.2 303.1,822" fill="#B177DE"/><polygon points="338.4,787.1 352.6,801.4 338.4,815.6 324.1,801.4" fill="#B177DE"/><polygon points="359.4,767.2 373.7,781.5 359.4,795.8 345.2,781.5" fill="#B177DE"/><polygon points="380.5,746.6 394.7,760.9 380.5,775.1 366.2,760.9" fill="#B177DE"/><polygon points="401.5,726.5 415.8,740.7 401.5,755 387.3,740.7" fill="#B177DE"/><polygon points="422.6,707 436.9,721.2 422.6,735.5 408.4,721.2" fill="#B177DE"/><polygon points="443.7,688 457.9,702.3 443.7,716.5 429.4,702.3" fill="#B177DE"/><polygon points="464.7,670 479,684.3 464.7,698.5 450.5,684.3" fill="#B177DE"/><polygon points="485.8,652.5 500,666.7 485.8,681 471.5,666.7" fill="#B177DE"/><polygon points="506.8,635.2 521.1,649.5 506.8,663.7 492.6,649.5" fill="#B177DE"/><polygon points="527.9,618.5 542.1,632.7 527.9,647 513.6,632.7" fill="#B177DE"/><polygon points="549,602.3 563.2,616.5 549,630.8 534.7,616.5" fill="#B177DE"/><polygon points="570,586.7 584.3,600.9 570,615.2 555.8,600.9" fill="#B177DE"/><polygon points="591.1,571.7 605.3,586 591.1,600.2 576.8,586" fill="#B177DE"/><polygon points="612.1,557.4 626.4,571.6 612.1,585.9 597.9,571.6" fill="#B177DE"/><polygon points="633.2,543.6 647.5,557.9 633.2,572.1 619,557.9" fill="#B177DE"/><polygon points="654.3,530.5 668.5,544.8 654.3,559 640,544.8" fill="#B177DE"/><polygon points="675.3,518 689.6,532.3 675.3,546.5 661.1,532.3" fill="#B177DE"/><polygon points="696.4,506 710.6,520.3 696.4,534.5 682.1,520.3" fill="#B177DE"/><polygon points="717.4,494.6 731.7,508.8 717.4,523.1 703.2,508.8" fill="#B177DE"/><polygon points="738.5,483.6 752.8,497.9 738.5,512.1 724.2,497.9" fill="#B177DE"/><polygon points="759.6,473.2 773.8,487.5 759.6,501.8 745.3,487.5" fill="#B177DE"/><polygon points="780.6,463.6 794.9,477.8 780.6,492.1 766.4,477.8" fill="#B177DE"/><polygon points="801.7,454.4 815.9,468.7 801.7,482.9 787.4,468.7" fill="#B177DE"/><polygon points="822.7,446.1 837,460.4 822.7,474.6 808.5,460.4" fill="#B177DE"/><polygon points="843.8,437.4 858,451.7 843.8,465.9 829.5,451.7" fill="#B177DE"/><polygon points="864.9,430.6 879.1,444.8 864.9,459.1 850.6,444.8" fill="#B177DE"/><polygon points="885.9,423.4 900.2,437.7 885.9,451.9 871.7,437.7" fill="#B177DE"/><polygon points="907,416.9 921.2,431.2 907,445.4 892.7,431.2" fill="#B177DE"/><polygon points="928,411.4 942.3,425.7 928,439.9 913.8,425.7" fill="#B177DE"/><polygon points="949.1,406.4 963.3,420.7 949.1,434.9 934.8,420.7" fill="#B177DE"/><polygon points="970.2,402.1 984.4,416.4 970.2,430.6 955.9,416.4" fill="#B177DE"/><polygon points="991.2,397.9 1005.5,412.1 991.2,426.4 977,412.1" fill="#B177DE"/><polygon points="1012.3,394.1 1026.5,408.4 1012.3,422.6 998,408.4" fill="#B177DE"/><polygon points="1033.3,390.9 1047.6,405.1 1033.3,419.4 1019.1,405.1" fill="#B177DE"/><polygon points="1054.4,388.8 1068.6,403 1054.4,417.2 1040.1,403" fill="#B177DE"/><polygon points="1075.5,387.2 1089.7,401.5 1075.5,415.8 1061.2,401.5" fill="#B177DE"/><polygon points="1096.5,385.9 1110.8,400.2 1096.5,414.4 1082.3,400.2" fill="#B177DE"/><polygon points="1117.6,385.4 1131.8,399.7 1117.6,413.9 1103.3,399.7" fill="#B177DE"/><polygon points="1138.6,385.8 1152.9,400 1138.6,414.2 1124.4,400" fill="#B177DE"/><polygon points="1159.7,386.2 1174,400.5 1159.7,414.8 1145.5,400.5" fill="#B177DE"/><polygon points="1180.8,387.4 1195,401.6 1180.8,415.9 1166.5,401.6" fill="#B177DE"/><polygon points="1201.8,389.1 1216.1,403.3 1201.8,417.6 1187.6,403.3" fill="#B177DE"/><polygon points="1222.9,390.6 1237.1,404.9 1222.9,419.1 1208.6,404.9" fill="#B177DE"/><polygon points="1243.9,393.4 1258.2,407.7 1243.9,421.9 1229.7,407.7" fill="#B177DE"/><polygon points="1265,397.1 1279.2,411.4 1265,425.6 1250.8,411.4" fill="#B177DE"/><polygon points="1286.1,401.1 1300.3,415.3 1286.1,429.6 1271.8,415.3" fill="#B177DE"/><polygon points="1307.1,406.9 1321.4,421.1 1307.1,435.4 1292.9,421.1" fill="#B177DE"/><polygon points="1328.2,412.9 1342.4,427.2 1328.2,441.4 1313.9,427.2" fill="#B177DE"/><polygon points="1349.2,419.4 1363.5,433.7 1349.2,447.9 1335,433.7" fill="#B177DE"/><polygon points="1370.3,426.4 1384.5,440.6 1370.3,454.9 1356,440.6" fill="#B177DE"/><polygon points="1391.4,430.6 1405.6,444.8 1391.4,459.1 1377.1,444.8" fill="#B177DE"/><polygon points="1412.4,437.2 1426.7,451.5 1412.4,465.8 1398.2,451.5" fill="#B177DE"/><polygon points="1433.5,445.1 1447.7,459.3 1433.5,473.6 1419.2,459.3" fill="#B177DE"/><polygon points="1454.5,453.9 1468.8,468.1 1454.5,482.4 1440.3,468.1" fill="#B177DE"/><polygon points="1475.6,462.6 1489.8,476.9 1475.6,491.1 1461.3,476.9" fill="#B177DE"/><polygon points="1496.7,471.2 1510.9,485.5 1496.7,499.8 1482.4,485.5" fill="#B177DE"/><polygon points="1517.7,480.6 1532,494.9 1517.7,509.1 1503.5,494.9" fill="#B177DE"/><polygon points="1538.8,490.9 1553,505.2 1538.8,519.5 1524.5,505.2" fill="#B177DE"/><polygon points="1559.8,501.4 1574.1,515.6 1559.8,529.9 1545.6,515.6" fill="#B177DE"/><polygon points="1580.9,512.2 1595.1,526.5 1580.9,540.8 1566.6,526.5" fill="#B177DE"/><polygon points="1602,524.1 1616.2,538.4 1602,552.6 1587.7,538.4" fill="#B177DE"/><polygon points="1623,536.5 1637.3,550.7 1623,565 1608.8,550.7" fill="#B177DE"/><polygon points="1644.1,549 1658.3,563.2 1644.1,577.5 1629.8,563.2" fill="#B177DE"/><polygon points="1665.1,561.2 1679.4,575.5 1665.1,589.8 1650.9,575.5" fill="#B177DE"/><polygon points="1686.2,574.6 1700.4,588.9 1686.2,603.1 1671.9,588.9" fill="#B177DE"/><polygon points="1707.3,587.8 1721.5,602 1707.3,616.2 1693,602" fill="#B177DE"/><polygon points="1728.3,602 1742.6,616.3 1728.3,630.5 1714.1,616.3" fill="#B177DE"/><polygon points="1749.4,616.2 1763.6,630.5 1749.4,644.8 1735.1,630.5" fill="#B177DE"/><polygon points="1770.4,631.2 1784.7,645.5 1770.4,659.8 1756.2,645.5" fill="#B177DE"/><polygon points="1791.5,646.8 1805.7,661 1791.5,675.2 1777.2,661" fill="#B177DE"/><polygon points="1812.6,661.9 1826.8,676.1 1812.6,690.4 1798.3,676.1" fill="#B177DE"/><polygon points="1833.6,678.2 1847.9,692.5 1833.6,706.8 1819.4,692.5" fill="#B177DE"/><polygon points="1854.7,694.5 1868.9,708.8 1854.7,723 1840.4,708.8" fill="#B177DE"/><polygon points="1875.7,711.8 1890,726 1875.7,740.2 1861.5,726" fill="#B177DE"/><polygon points="1896.8,728.5 1911,742.8 1896.8,757 1882.5,742.8" fill="#B177DE"/><polygon points="1917.9,746.1 1932.1,760.4 1917.9,774.6 1903.6,760.4" fill="#B177DE"/><polygon points="1938.9,763.8 1953.2,778 1938.9,792.2 1924.7,778" fill="#B177DE"/><polygon points="1960,782 1974.2,796.2 1960,810.5 1945.7,796.2" fill="#B177DE"/><polygon points="1981,800.1 1995.3,814.4 1981,828.6 1966.8,814.4" fill="#B177DE"/><polygon points="2002.1,819 2016.3,833.3 2002.1,847.5 1987.8,833.3" fill="#B177DE"/><polygon points="2023.2,839.1 2037.4,853.4 2023.2,867.6 2008.9,853.4" fill="#B177DE"/><polygon points="2044.2,858.2 2058.5,872.5 2044.2,886.8 2030,872.5" fill="#B177DE"/><polygon points="2065.3,878 2079.5,892.2 2065.3,906.5 2051,892.2" fill="#B177DE"/><polygon points="2086.3,898 2100.6,912.2 2086.3,926.5 2072.1,912.2" fill="#B177DE"/><polygon points="2107.4,918.2 2121.7,932.5 2107.4,946.8 2093.2,932.5" fill="#B177DE"/><polygon points="2128.5,938.5 2142.7,952.7 2128.5,967 2114.2,952.7" fill="#B177DE"/><polygon points="2149.5,960 2163.8,974.3 2149.5,988.5 2135.3,974.3" fill="#B177DE"/><polygon points="2170.6,981.2 2184.8,995.5 2170.6,1009.8 2156.3,995.5" fill="#B177DE"/><polygon points="2191.6,1002.5 2205.9,1016.7 2191.6,1031 2177.4,1016.7" fill="#B177DE"/><polygon points="2212.7,1023.7 2226.9,1037.9 2212.7,1052.2 2198.4,1037.9" fill="#B177DE"/><polygon points="2233.8,1044.8 2248,1059.1 2233.8,1073.3 2219.5,1059.1" fill="#B177DE"/><polygon points="2254.8,1067.2 2269.1,1081.4 2254.8,1095.7 2240.6,1081.4" fill="#B177DE"/><polygon points="2275.9,1090.5 2290.1,1104.8 2275.9,1119 2261.6,1104.8" fill="#B177DE"/><polygon points="2296.9,1112.2 2311.2,1126.5 2296.9,1140.8 2282.7,1126.5" fill="#B177DE"/><polygon points="2318,1134 2332.2,1148.3 2318,1162.5 2303.8,1148.3" fill="#B177DE"/><polygon points="2339.1,1158.2 2353.3,1172.5 2339.1,1186.8 2324.8,1172.5" fill="#B177DE"/><polygon points="2360.1,1181.2 2374.4,1195.5 2360.1,1209.8 2345.9,1195.5" fill="#B177DE"/><polygon points="2381.2,1204.2 2395.4,1218.5 2381.2,1232.8 2366.9,1218.5" fill="#B177DE"/><polygon points="2402.2,1227.2 2416.5,1241.5 2402.2,1255.8 2388,1241.5" fill="#B177DE"/><polygon points="2423.3,1252.7 2437.6,1266.9 2423.3,1281.2 2409.1,1266.9" fill="#B177DE"/><polyline points="317.3,1316.7 338.4,1282.2 359.4,1248.1 380.5,1215.8 401.5,1183.5 422.6,1151 443.7,1121.4 464.7,1091.5 485.8,1061.9 506.8,1033.3 527.9,1004 549,977.4 570,950.3 591.1,925 612.1,899.4 633.2,875.5 654.3,851.3 675.3,828.9 696.4,806.2 717.4,784.5 738.5,763.5 759.6,743 780.6,724.1 801.7,706 822.7,687.8 843.8,671 864.9,654.8 885.9,639.8 907,625.5 928,611.8 949.1,598.6 970.2,586.8 991.2,574.9 1012.3,564.5 1033.3,554.7 1054.4,545.8 1075.5,537.6 1096.5,529.1 1117.6,522.4 1138.6,515.9 1159.7,511 1180.8,505.7 1201.8,501.3 1222.9,498.7 1243.9,496.6 1265,495.9 1286.1,495.5 1307.1,495.9 1328.2,497 1349.2,498.1 1370.3,500.2 1391.4,502.4 1412.4,506.8 1433.5,510.9 1454.5,516.8 1475.6,522.4 1496.7,528 1517.7,535.8 1538.8,543.8 1559.8,551.9 1580.9,560.2 1602,568.5 1623,579.5 1644.1,591.2 1665.1,602.5 1686.2,615.4 1707.3,628.5 1728.3,642.3 1749.4,656.3 1770.4,670.7 1791.5,687 1812.6,702.9 1833.6,719.3 1854.7,735.9 1875.7,752.6 1896.8,771 1917.9,789 1938.9,808.5 1960,828.1 1981,847.7 2002.1,868.3 2023.2,889.9 2044.2,911.1 2065.3,933.4 2086.3,955.2 2107.4,978.1 2128.5,1001.2 2149.5,1024.1 2170.6,1047.5 2191.6,1072.1 2212.7,1096.9 2233.8,1122.2 2254.8,1147.3 2275.9,1173 2296.9,1198.4 2318,1225 2339.1,1251.1 2360.1,1277 2381.2,1303.6 2402.2,1333.9 2423.3,1361.7" fill="none" stroke="#C39100" stroke-width="2"/><polygon points="301.8,1316.7 325.1,1303.9 325.1,1329.5" fill="#CC9900"/><polygon points="322.8,1282.2 346.1,1269.4 346.1,1295" fill="#CC9900"/><polygon points="343.9,1248.1 367.2,1235.2 367.2,1260.9" fill="#CC9900"/><polygon points="364.9,1215.8 388.2,1203 388.2,1228.6" fill="#CC9900"/><polygon points="386,1183.5 409.3,1170.7 409.3,1196.3" fill="#CC9900"/><polygon points="407.1,1151 430.4,1138.2 430.4,1163.8" fill="#CC9900"/><polygon points="428.1,1121.4 451.4,1108.6 451.4,1134.2" fill="#CC9900"/><polygon points="449.2,1091.5 472.5,1078.7 472.5,1104.3" fill="#CC9900"/><polygon points="470.2,1061.9 493.5,1049.1 493.5,1074.8" fill="#CC9900"/><polygon points="491.3,1033.3 514.6,1020.4 514.6,1046.1" fill="#CC9900"/><polygon points="512.4,1004 535.7,991.1 535.7,1016.9" fill="#CC9900"/><polygon points="533.4,977.4 556.7,964.5 556.7,990.2" fill="#CC9900"/><polygon points="554.5,950.3 577.8,937.4 577.8,963.1" fill="#CC9900"/><polygon points="575.5,925 598.8,912.1 598.8,937.9" fill="#CC9900"/><polygon points="596.6,899.4 619.9,886.5 619.9,912.2" fill="#CC9900"/><polygon points="617.7,875.5 641,862.6 641,888.4" fill="#CC9900"/><polygon points="638.7,851.3 662,838.4 662,864.1" fill="#CC9900"/><polygon points="659.8,828.9 683.1,816 683.1,841.8" fill="#CC9900"/><polygon points="680.8,806.2 704.1,793.4 704.1,819.1" fill="#CC9900"/><polygon points="701.9,784.5 725.2,771.6 725.2,797.4" fill="#CC9900"/><polygon points="723,763.5 746.3,750.6 746.3,776.4" fill="#CC9900"/><polygon points="744,743 767.3,730.1 767.3,755.9" fill="#CC9900"/><polygon points="765.1,724.1 788.4,711.2 788.4,737" fill="#CC9900"/><polygon points="786.1,706 809.4,693.1 809.4,718.9" fill="#CC9900"/><polygon points="807.2,687.8 830.5,674.9 830.5,700.6" fill="#CC9900"/><polygon points="828.3,671 851.6,658.1 851.6,683.9" fill="#CC9900"/><polygon points="849.3,654.8 872.6,641.9 872.6,667.6" fill="#CC9900"/><polygon points="870.4,639.8 893.7,626.9 893.7,652.6" fill="#CC9900"/><polygon points="891.4,625.5 914.7,612.6 914.7,638.4" fill="#CC9900"/><polygon points="912.5,611.8 935.8,598.9 935.8,624.6" fill="#CC9900"/><polygon points="933.6,598.6 956.9,585.8 956.9,611.5" fill="#CC9900"/><polygon points="954.6,586.8 977.9,573.9 977.9,599.6" fill="#CC9900"/><polygon points="975.7,574.9 999,562 999,587.8" fill="#CC9900"/><polygon points="996.7,564.5 1020,551.6 1020,577.4" fill="#CC9900"/><polygon points="1017.8,554.7 1041.1,541.9 1041.1,567.6" fill="#CC9900"/><polygon points="1038.9,545.8 1062.2,532.9 1062.2,558.6" fill="#CC9900"/><polygon points="1059.9,537.6 1083.2,524.8 1083.2,550.5" fill="#CC9900"/><polygon points="1081,529.1 1104.3,516.2 1104.3,542" fill="#CC9900"/><polygon points="1102,522.4 1125.3,509.5 1125.3,535.2" fill="#CC9900"/><polygon points="1123.1,515.9 1146.4,503 1146.4,528.8" fill="#CC9900"/><polygon points="1144.2,511 1167.5,498.1 1167.5,523.9" fill="#CC9900"/><polygon points="1165.2,505.7 1188.5,492.8 1188.5,518.5" fill="#CC9900"/><polygon points="1186.3,501.3 1209.6,488.4 1209.6,514.1" fill="#CC9900"/><polygon points="1207.3,498.7 1230.6,485.8 1230.6,511.6" fill="#CC9900"/><polygon points="1228.4,496.6 1251.7,483.8 1251.7,509.5" fill="#CC9900"/><polygon points="1249.5,495.9 1272.8,483 1272.8,508.8" fill="#CC9900"/><polygon points="1270.5,495.5 1293.8,482.6 1293.8,508.4" fill="#CC9900"/><polygon points="1291.6,495.9 1314.9,483 1314.9,508.8" fill="#CC9900"/><polygon points="1312.6,497 1335.9,484.1 1335.9,509.9" fill="#CC9900"/><polygon points="1333.7,498.1 1357,485.2 1357,511" fill="#CC9900"/><polygon points="1354.8,500.2 1378.1,487.3 1378.1,513" fill="#CC9900"/><polygon points="1375.8,502.4 1399.1,489.5 1399.1,515.2" fill="#CC9900"/><polygon points="1396.9,506.8 1420.2,493.9 1420.2,519.6" fill="#CC9900"/><polygon points="1417.9,510.9 1441.2,498 1441.2,523.8" fill="#CC9900"/><polygon points="1439,516.8 1462.3,503.9 1462.3,529.6" fill="#CC9900"/><polygon points="1460.1,522.4 1483.4,509.5 1483.4,535.2" fill="#CC9900"/><polygon points="1481.1,528 1504.4,515.1 1504.4,540.9" fill="#CC9900"/><polygon points="1502.2,535.8 1525.5,522.9 1525.5,548.6" fill="#CC9900"/><polygon points="1523.2,543.8 1546.5,530.9 1546.5,556.6" fill="#CC9900"/><polygon points="1544.3,551.9 1567.6,539 1567.6,564.8" fill="#CC9900"/><polygon points="1565.4,560.2 1588.7,547.4 1588.7,573.1" fill="#CC9900"/><polygon points="1586.4,568.5 1609.7,555.6 1609.7,581.4" fill="#CC9900"/><polygon points="1607.5,579.5 1630.8,566.6 1630.8,592.4" fill="#CC9900"/><polygon points="1628.5,591.2 1651.8,578.4 1651.8,604.1" fill="#CC9900"/><polygon points="1649.6,602.5 1672.9,589.6 1672.9,615.4" fill="#CC9900"/><polygon points="1670.7,615.4 1694,602.5 1694,628.2" fill="#CC9900"/><polygon points="1691.7,628.5 1715,615.6 1715,641.4" fill="#CC9900"/><polygon points="1712.8,642.3 1736.1,629.4 1736.1,655.1" fill="#CC9900"/><polygon points="1733.8,656.3 1757.1,643.4 1757.1,669.1" fill="#CC9900"/><polygon points="1754.9,670.7 1778.2,657.9 1778.2,683.6" fill="#CC9900"/><polygon points="1776,687 1799.3,674.1 1799.3,699.9" fill="#CC9900"/><polygon points="1797,702.9 1820.3,690 1820.3,715.8" fill="#CC9900"/><polygon points="1818.1,719.3 1841.4,706.4 1841.4,732.1" fill="#CC9900"/><polygon points="1839.1,735.9 1862.4,723 1862.4,748.8" fill="#CC9900"/><polygon points="1860.2,752.6 1883.5,739.8 1883.5,765.5" fill="#CC9900"/><polygon points="1881.3,771 1904.6,758.1 1904.6,783.9" fill="#CC9900"/><polygon points="1902.3,789 1925.6,776.1 1925.6,801.9" fill="#CC9900"/><polygon points="1923.4,808.5 1946.7,795.6 1946.7,821.4" fill="#CC9900"/><polygon points="1944.4,828.1 1967.7,815.2 1967.7,840.9" fill="#CC9900"/><polygon points="1965.5,847.7 1988.8,834.9 1988.8,860.6" fill="#CC9900"/><polygon points="1986.6,868.3 2009.9,855.4 2009.9,881.1" fill="#CC9900"/><polygon points="2007.6,889.9 2030.9,877 2030.9,902.8" fill="#CC9900"/><polygon points="2028.7,911.1 2052,898.2 2052,924" fill="#CC9900"/><polygon points="2049.7,933.4 2073,920.5 2073,946.2" fill="#CC9900"/><polygon points="2070.8,955.2 2094.1,942.4 2094.1,968.1" fill="#CC9900"/><polygon points="2091.9,978.1 2115.2,965.2 2115.2,991" fill="#CC9900"/><polygon points="2112.9,1001.2 2136.2,988.4 2136.2,1014.1" fill="#CC9900"/><polygon points="2134,1024.1 2157.3,1011.2 2157.3,1036.9" fill="#CC9900"/><polygon points="2155,1047.5 2178.3,1034.7 2178.3,1060.3" fill="#CC9900"/><polygon points="2176.1,1072.1 2199.4,1059.2 2199.4,1084.9" fill="#CC9900"/><polygon points="2197.2,1096.9 2220.5,1084.1 2220.5,1109.8" fill="#CC9900"/><polygon points="2218.2,1122.2 2241.5,1109.4 2241.5,1135" fill="#CC9900"/><polygon points="2239.3,1147.3 2262.6,1134.5 2262.6,1160.1" fill="#CC9900"/><polygon points="2260.3,1173 2283.6,1160.2 2283.6,1185.8" fill="#CC9900"/><polygon points="2281.4,1198.4 2304.7,1185.6 2304.7,1211.2" fill="#CC9900"/><polygon points="2302.5,1225 2325.8,1212.2 2325.8,1237.8" fill="#CC9900"/><polygon points="2323.5,1251.1 2346.8,1238.2 2346.8,1263.9" fill="#CC9900"/><polygon points="2344.6,1277 2367.9,1264.2 2367.9,1289.8" fill="#CC9900"/><polygon points="2365.6,1303.6 2388.9,1290.8 2388.9,1316.4" fill="#CC9900"/><polygon points="2386.7,1333.9 2410,1321.1 2410,1346.8" fill="#CC9900"/><polygon points="2407.8,1361.7 2431.1,1348.9 2431.1,1374.5" fill="#CC9900"/></g>
<g style="font-family:'Liberation Sans', Arial, sans-serif" font-size="73" fill="#000">
<text x="317.3" y="1847" text-anchor="middle">-60</text>
<text x="527.9" y="1847" text-anchor="middle">-50</text>
<text x="738.5" y="1847" text-anchor="middle">-40</text>
<text x="949.1" y="1847" text-anchor="middle">-30</text>
<text x="1159.7" y="1847" text-anchor="middle">-20</text>
<text x="1370.3" y="1847" text-anchor="middle">-10</text>
<text x="1580.9" y="1847" text-anchor="middle">0</text>
<text x="1791.5" y="1847" text-anchor="middle">10</text>
<text x="2002.1" y="1847" text-anchor="middle">20</text>
<text x="2212.7" y="1847" text-anchor="middle">30</text>
<text x="2423.3" y="1847" text-anchor="middle">40</text>
<text x="281.5" y="441.7" text-anchor="end">10</text>
<text x="279.5" y="886.7" text-anchor="end">1</text>
<text x="279.5" y="1331.6" text-anchor="end">0.1</text>
<text x="279.5" y="1776.6" text-anchor="end">0.01</text>
</g>
<text transform="translate(104,1083) rotate(-90)" style="font-family:'Liberation Sans', Arial, sans-serif" font-size="89" fill="#000">LCR <tspan dx="-3">(s</tspan><tspan font-size="60" dx="-1.5" dy="-36">-1</tspan><tspan dx="4" dy="36">)</tspan></text>
<text y="1988.9" style="font-family:'Liberation Sans', Arial, sans-serif" font-size="89" fill="#000"><tspan x="1249.3" font-size="88" style="font-family:'Liberation Serif', 'Times New Roman', serif">γ</tspan><tspan x="1286.2" y="2012.8" font-size="60">th</tspan><tspan x="1333.9" y="1988.9">[dB]</tspan></text>
<g fill="none" stroke="#000" stroke-width="6">
<ellipse cx="890.7" cy="143.5" rx="75.6" ry="52.2"/>
<ellipse cx="448.4" cy="612.9" rx="103.7" ry="60.3"/>
<ellipse cx="460" cy="971.9" rx="94.5" ry="76.7"/>
</g>
<line x1="1069" y1="120.6" x2="1025.1" y2="120.6" stroke="#000" stroke-width="6"/><polygon points="969.3,120.6 1027.1,107.2 1027.1,134" fill="#000"/>
<line x1="777.5" y1="817.5" x2="591" y2="689.2" stroke="#000" stroke-width="6"/><polygon points="545,657.6 600.2,679.3 585,701.4" fill="#000"/>
<line x1="566" y1="1083.4" x2="548.2" y2="1061.6" stroke="#000" stroke-width="6"/><polygon points="513,1018.3 559.9,1054.7 539.1,1071.6" fill="#000"/>
<rect x="1081.9" y="74.9" width="847.7" height="95.8" fill="#fff" stroke="#000" stroke-width="2"/>
<text transform="matrix(1.26,0,0,1,1088.9,139.7)" style="font-family:'Liberation Serif', 'Times New Roman', serif" font-size="60" stroke="#000" stroke-width="0.7">α</text><text transform="matrix(1.17,0,0,1,1323.2,139.7)" style="font-family:'Liberation Serif', 'Times New Roman', serif" font-size="60" stroke="#000" stroke-width="0.7">β</text><text transform="matrix(1.26,0,0,1,1522.4,139.7)" style="font-family:'Liberation Serif', 'Times New Roman', serif" font-size="60" stroke="#000" stroke-width="0.7">α</text><text transform="matrix(1.17,0,0,1,1756.7,139.7)" style="font-family:'Liberation Serif', 'Times New Roman', serif" font-size="60" stroke="#000" stroke-width="0.7">β</text><text style="font-family:'Liberation Sans', Arial, sans-serif" font-size="58"><tspan x="1126.5" y="155.5" style="font-family:'Liberation Serif', 'Times New Roman', serif" font-size="42">1</tspan><tspan x="1145.9" y="139.7" stroke="#000" stroke-width="0.8">=2.73,</tspan><tspan x="1358.1" y="155.5" style="font-family:'Liberation Serif', 'Times New Roman', serif" font-size="42">1</tspan><tspan x="1376.9" y="139.7" stroke="#000" stroke-width="0.8">=2.1,</tspan><tspan x="1560" y="155.5" style="font-family:'Liberation Serif', 'Times New Roman', serif" font-size="42">2</tspan><tspan x="1579.4" y="139.7" stroke="#000" stroke-width="0.8">=2.73,</tspan><tspan x="1791.6" y="155.5" style="font-family:'Liberation Serif', 'Times New Roman', serif" font-size="42">2</tspan><tspan x="1810.4" y="139.7" stroke="#000" stroke-width="0.8">=2.1</tspan></text>
<rect x="787" y="767" width="932.8" height="103.3" fill="#fff" stroke="#000" stroke-width="2"/>
<text transform="matrix(1.26,0,0,1,795,837)" style="font-family:'Liberation Serif', 'Times New Roman', serif" font-size="60" stroke="#000" stroke-width="0.7">α</text><text transform="matrix(1.17,0,0,1,1034.2,837)" style="font-family:'Liberation Serif', 'Times New Roman', serif" font-size="60" stroke="#000" stroke-width="0.7">β</text><text transform="matrix(1.26,0,0,1,1270.4,837)" style="font-family:'Liberation Serif', 'Times New Roman', serif" font-size="60" stroke="#000" stroke-width="0.7">α</text><text transform="matrix(1.17,0,0,1,1509.6,837)" style="font-family:'Liberation Serif', 'Times New Roman', serif" font-size="60" stroke="#000" stroke-width="0.7">β</text><text style="font-family:'Liberation Sans', Arial, sans-serif" font-size="59.2"><tspan x="833.3" y="852.8" style="font-family:'Liberation Serif', 'Times New Roman', serif" font-size="42">1</tspan><tspan x="853.1" y="837" stroke="#000" stroke-width="0.8">=5.75,</tspan><tspan x="1069.7" y="852.8" style="font-family:'Liberation Serif', 'Times New Roman', serif" font-size="42">1</tspan><tspan x="1088.9" y="837" stroke="#000" stroke-width="0.8">=2.58,</tspan><tspan x="1308.7" y="852.8" style="font-family:'Liberation Serif', 'Times New Roman', serif" font-size="42">2</tspan><tspan x="1328.5" y="837" stroke="#000" stroke-width="0.8">=5.75,</tspan><tspan x="1545.1" y="852.8" style="font-family:'Liberation Serif', 'Times New Roman', serif" font-size="42">2</tspan><tspan x="1564.3" y="837" stroke="#000" stroke-width="0.8">=2.58</tspan></text>
<rect x="563" y="1008" width="1038.5" height="95.8" fill="#fff" stroke="#000" stroke-width="2"/>
<text transform="matrix(1.26,0,0,1,569.2,1073)" style="font-family:'Liberation Serif', 'Times New Roman', serif" font-size="60" stroke="#000" stroke-width="0.7">α</text><text transform="matrix(1.17,0,0,1,834.8,1073)" style="font-family:'Liberation Serif', 'Times New Roman', serif" font-size="60" stroke="#000" stroke-width="0.7">β</text><text transform="matrix(1.26,0,0,1,1097.7,1073)" style="font-family:'Liberation Serif', 'Times New Roman', serif" font-size="60" stroke="#000" stroke-width="0.7">α</text><text transform="matrix(1.17,0,0,1,1363.3,1073)" style="font-family:'Liberation Serif', 'Times New Roman', serif" font-size="60" stroke="#000" stroke-width="0.7">β</text><text style="font-family:'Liberation Sans', Arial, sans-serif" font-size="57.8"><tspan x="606.6" y="1088.8" style="font-family:'Liberation Serif', 'Times New Roman', serif" font-size="42">1</tspan><tspan x="626" y="1073" stroke="#000" stroke-width="0.8">=7.433,</tspan><tspan x="869.6" y="1088.8" style="font-family:'Liberation Serif', 'Times New Roman', serif" font-size="42">1</tspan><tspan x="888.4" y="1073" stroke="#000" stroke-width="0.8">=3.265,</tspan><tspan x="1135.1" y="1088.8" style="font-family:'Liberation Serif', 'Times New Roman', serif" font-size="42">2</tspan><tspan x="1154.5" y="1073" stroke="#000" stroke-width="0.8">=7.433,</tspan><tspan x="1398.1" y="1088.8" style="font-family:'Liberation Serif', 'Times New Roman', serif" font-size="42">2</tspan><tspan x="1416.9" y="1073" stroke="#000" stroke-width="0.8">=3.265</tspan></text>
<rect x="427.3" y="1157.9" width="1738.5" height="573.3" fill="#fff" stroke="#000" stroke-width="2"/>
<line x1="435.4" y1="1206.6" x2="568.9" y2="1206.6" stroke="#3d3d3d" stroke-width="2"/>
<rect x="492.6" y="1196.7" width="19.8" height="19.8" fill="#515151" stroke="#3d3d3d" stroke-width="1"/>
<text transform="matrix(1.26,0,0,1,583.9,1227.9)" style="font-family:'Liberation Serif', 'Times New Roman', serif" font-size="60" stroke="#000" stroke-width="0.7">α</text><text transform="matrix(1.17,0,0,1,823,1227.9)" style="font-family:'Liberation Serif', 'Times New Roman', serif" font-size="60" stroke="#000" stroke-width="0.7">β</text><text transform="matrix(1.26,0,0,1,1026.2,1227.9)" style="font-family:'Liberation Serif', 'Times New Roman', serif" font-size="60" stroke="#000" stroke-width="0.7">α</text><text transform="matrix(1.17,0,0,1,1265.2,1227.9)" style="font-family:'Liberation Serif', 'Times New Roman', serif" font-size="60" stroke="#000" stroke-width="0.7">β</text><text style="font-family:'Liberation Sans', Arial, sans-serif" font-size="59.2"><tspan x="622.2" y="1243.7" style="font-family:'Liberation Serif', 'Times New Roman', serif" font-size="42">1</tspan><tspan x="642" y="1227.9" stroke="#000" stroke-width="0.8">=2.73,</tspan><tspan x="858.4" y="1243.7" style="font-family:'Liberation Serif', 'Times New Roman', serif" font-size="42">1</tspan><tspan x="877.7" y="1227.9" stroke="#000" stroke-width="0.8">=2.1,</tspan><tspan x="1064.4" y="1243.7" style="font-family:'Liberation Serif', 'Times New Roman', serif" font-size="42">2</tspan><tspan x="1084.3" y="1227.9" stroke="#000" stroke-width="0.8">=2.73,</tspan><tspan x="1300.7" y="1243.7" style="font-family:'Liberation Serif', 'Times New Roman', serif" font-size="42">2</tspan><tspan x="1319.9" y="1227.9" stroke="#000" stroke-width="0.8">=2.1, average SNR=3dB</tspan></text>
<line x1="435.4" y1="1300.6" x2="568.9" y2="1300.6" stroke="#EE2A2A" stroke-width="2"/>
<circle cx="502.5" cy="1300.6" r="11.1" fill="#F14040" stroke="#EE2A2A" stroke-width="1"/>
<text transform="matrix(1.26,0,0,1,583.9,1321.9)" style="font-family:'Liberation Serif', 'Times New Roman', serif" font-size="60" stroke="#000" stroke-width="0.7">α</text><text transform="matrix(1.17,0,0,1,823,1321.9)" style="font-family:'Liberation Serif', 'Times New Roman', serif" font-size="60" stroke="#000" stroke-width="0.7">β</text><text transform="matrix(1.26,0,0,1,1059.1,1321.9)" style="font-family:'Liberation Serif', 'Times New Roman', serif" font-size="60" stroke="#000" stroke-width="0.7">α</text><text transform="matrix(1.17,0,0,1,1298.1,1321.9)" style="font-family:'Liberation Serif', 'Times New Roman', serif" font-size="60" stroke="#000" stroke-width="0.7">β</text><text style="font-family:'Liberation Sans', Arial, sans-serif" font-size="59.2"><tspan x="622.2" y="1337.7" style="font-family:'Liberation Serif', 'Times New Roman', serif" font-size="42">1</tspan><tspan x="642" y="1321.9" stroke="#000" stroke-width="0.8">=5.75,</tspan><tspan x="858.4" y="1337.7" style="font-family:'Liberation Serif', 'Times New Roman', serif" font-size="42">1</tspan><tspan x="877.7" y="1321.9" stroke="#000" stroke-width="0.8">=2.58,</tspan><tspan x="1097.3" y="1337.7" style="font-family:'Liberation Serif', 'Times New Roman', serif" font-size="42">2</tspan><tspan x="1117.2" y="1321.9" stroke="#000" stroke-width="0.8">=5.75,</tspan><tspan x="1333.6" y="1337.7" style="font-family:'Liberation Serif', 'Times New Roman', serif" font-size="42">2</tspan><tspan x="1352.9" y="1321.9" stroke="#000" stroke-width="0.8">=2.58, average SNR=3dB</tspan></text>
<line x1="435.4" y1="1394.7" x2="568.9" y2="1394.7" stroke="#1566D6" stroke-width="2"/>
<polygon points="502.5,1379.8 514.9,1402.1 490.1,1402.1" fill="#1A6FDF" stroke="#1566D6" stroke-width="1"/>
<text transform="matrix(1.26,0,0,1,583.9,1416)" style="font-family:'Liberation Serif', 'Times New Roman', serif" font-size="60" stroke="#000" stroke-width="0.7">α</text><text transform="matrix(1.17,0,0,1,855.9,1416)" style="font-family:'Liberation Serif', 'Times New Roman', serif" font-size="60" stroke="#000" stroke-width="0.7">β</text><text transform="matrix(1.26,0,0,1,1124.9,1416)" style="font-family:'Liberation Serif', 'Times New Roman', serif" font-size="60" stroke="#000" stroke-width="0.7">α</text><text transform="matrix(1.17,0,0,1,1396.9,1416)" style="font-family:'Liberation Serif', 'Times New Roman', serif" font-size="60" stroke="#000" stroke-width="0.7">β</text><text style="font-family:'Liberation Sans', Arial, sans-serif" font-size="59.2"><tspan x="622.2" y="1431.8" style="font-family:'Liberation Serif', 'Times New Roman', serif" font-size="42">1</tspan><tspan x="642" y="1416" stroke="#000" stroke-width="0.8">=7.433,</tspan><tspan x="891.4" y="1431.8" style="font-family:'Liberation Serif', 'Times New Roman', serif" font-size="42">1</tspan><tspan x="910.6" y="1416" stroke="#000" stroke-width="0.8">=3.265,</tspan><tspan x="1163.2" y="1431.8" style="font-family:'Liberation Serif', 'Times New Roman', serif" font-size="42">2</tspan><tspan x="1183" y="1416" stroke="#000" stroke-width="0.8">=7.433,</tspan><tspan x="1432.3" y="1431.8" style="font-family:'Liberation Serif', 'Times New Roman', serif" font-size="42">2</tspan><tspan x="1451.6" y="1416" stroke="#000" stroke-width="0.8">=3.265, average SNR=3dB</tspan></text>
<line x1="435.4" y1="1488.8" x2="568.9" y2="1488.8" stroke="#2BA361" stroke-width="2"/>
<polygon points="502.5,1503.6 514.9,1481.3 490.1,1481.3" fill="#37AD6B" stroke="#2BA361" stroke-width="1"/>
<text transform="matrix(1.26,0,0,1,583.9,1510)" style="font-family:'Liberation Serif', 'Times New Roman', serif" font-size="60" stroke="#000" stroke-width="0.7">α</text><text transform="matrix(1.17,0,0,1,823,1510)" style="font-family:'Liberation Serif', 'Times New Roman', serif" font-size="60" stroke="#000" stroke-width="0.7">β</text><text transform="matrix(1.26,0,0,1,1026.2,1510)" style="font-family:'Liberation Serif', 'Times New Roman', serif" font-size="60" stroke="#000" stroke-width="0.7">α</text><text transform="matrix(1.17,0,0,1,1265.2,1510)" style="font-family:'Liberation Serif', 'Times New Roman', serif" font-size="60" stroke="#000" stroke-width="0.7">β</text><text style="font-family:'Liberation Sans', Arial, sans-serif" font-size="59.2"><tspan x="622.2" y="1525.8" style="font-family:'Liberation Serif', 'Times New Roman', serif" font-size="42">1</tspan><tspan x="642" y="1510" stroke="#000" stroke-width="0.8">=2.73,</tspan><tspan x="858.4" y="1525.8" style="font-family:'Liberation Serif', 'Times New Roman', serif" font-size="42">1</tspan><tspan x="877.7" y="1510" stroke="#000" stroke-width="0.8">=2.1,</tspan><tspan x="1064.4" y="1525.8" style="font-family:'Liberation Serif', 'Times New Roman', serif" font-size="42">2</tspan><tspan x="1084.3" y="1510" stroke="#000" stroke-width="0.8">=2.73,</tspan><tspan x="1300.7" y="1525.8" style="font-family:'Liberation Serif', 'Times New Roman', serif" font-size="42">2</tspan><tspan x="1319.9" y="1510" stroke="#000" stroke-width="0.8">=2.1, average SNR=6dB</tspan></text>
<line x1="435.4" y1="1582.8" x2="568.9" y2="1582.8" stroke="#A86BD8" stroke-width="2"/>
<polygon points="502.5,1569.2 516,1582.8 502.5,1596.3 488.9,1582.8" fill="#B177DE" stroke="#A86BD8" stroke-width="1"/>
<text transform="matrix(1.26,0,0,1,583.9,1604.1)" style="font-family:'Liberation Serif', 'Times New Roman', serif" font-size="60" stroke="#000" stroke-width="0.7">α</text><text transform="matrix(1.17,0,0,1,823,1604.1)" style="font-family:'Liberation Serif', 'Times New Roman', serif" font-size="60" stroke="#000" stroke-width="0.7">β</text><text transform="matrix(1.26,0,0,1,1059.1,1604.1)" style="font-family:'Liberation Serif', 'Times New Roman', serif" font-size="60" stroke="#000" stroke-width="0.7">α</text><text transform="matrix(1.17,0,0,1,1298.1,1604.1)" style="font-family:'Liberation Serif', 'Times New Roman', serif" font-size="60" stroke="#000" stroke-width="0.7">β</text><text style="font-family:'Liberation Sans', Arial, sans-serif" font-size="59.2"><tspan x="622.2" y="1619.9" style="font-family:'Liberation Serif', 'Times New Roman', serif" font-size="42">1</tspan><tspan x="642" y="1604.1" stroke="#000" stroke-width="0.8">=5.75,</tspan><tspan x="858.4" y="1619.9" style="font-family:'Liberation Serif', 'Times New Roman', serif" font-size="42">1</tspan><tspan x="877.7" y="1604.1" stroke="#000" stroke-width="0.8">=2.58,</tspan><tspan x="1097.3" y="1619.9" style="font-family:'Liberation Serif', 'Times New Roman', serif" font-size="42">2</tspan><tspan x="1117.2" y="1604.1" stroke="#000" stroke-width="0.8">=5.75,</tspan><tspan x="1333.6" y="1619.9" style="font-family:'Liberation Serif', 'Times New Roman', serif" font-size="42">2</tspan><tspan x="1352.9" y="1604.1" stroke="#000" stroke-width="0.8">=2.58, average SNR=6dB</tspan></text>
<line x1="435.4" y1="1676.8" x2="568.9" y2="1676.8" stroke="#C39100" stroke-width="2"/>
<polygon points="487.6,1676.8 509.9,1664.5 509.9,1689.2" fill="#CC9900" stroke="#C39100" stroke-width="1"/>
<text transform="matrix(1.26,0,0,1,583.9,1698.1)" style="font-family:'Liberation Serif', 'Times New Roman', serif" font-size="60" stroke="#000" stroke-width="0.7">α</text><text transform="matrix(1.17,0,0,1,855.9,1698.1)" style="font-family:'Liberation Serif', 'Times New Roman', serif" font-size="60" stroke="#000" stroke-width="0.7">β</text><text transform="matrix(1.26,0,0,1,1124.9,1698.1)" style="font-family:'Liberation Serif', 'Times New Roman', serif" font-size="60" stroke="#000" stroke-width="0.7">α</text><text transform="matrix(1.17,0,0,1,1396.9,1698.1)" style="font-family:'Liberation Serif', 'Times New Roman', serif" font-size="60" stroke="#000" stroke-width="0.7">β</text><text style="font-family:'Liberation Sans', Arial, sans-serif" font-size="59.2"><tspan x="622.2" y="1713.9" style="font-family:'Liberation Serif', 'Times New Roman', serif" font-size="42">1</tspan><tspan x="642" y="1698.1" stroke="#000" stroke-width="0.8">=7.433,</tspan><tspan x="891.4" y="1713.9" style="font-family:'Liberation Serif', 'Times New Roman', serif" font-size="42">1</tspan><tspan x="910.6" y="1698.1" stroke="#000" stroke-width="0.8">=3.265,</tspan><tspan x="1163.2" y="1713.9" style="font-family:'Liberation Serif', 'Times New Roman', serif" font-size="42">2</tspan><tspan x="1183" y="1698.1" stroke="#000" stroke-width="0.8">=7.433,</tspan><tspan x="1432.3" y="1713.9" style="font-family:'Liberation Serif', 'Times New Roman', serif" font-size="42">2</tspan><tspan x="1451.6" y="1698.1" stroke="#000" stroke-width="0.8">=3.265, average SNR=6dB</tspan></text>
</svg></body></html>
